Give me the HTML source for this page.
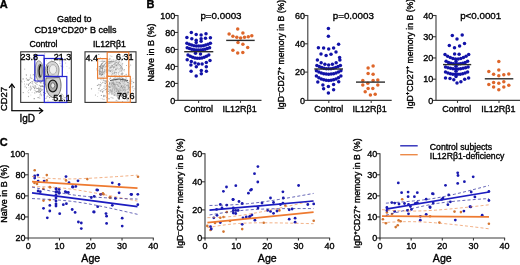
<!DOCTYPE html>
<html><head><meta charset="utf-8"><style>
html,body{margin:0;padding:0;background:#fff;}
body{width:520px;height:265px;overflow:hidden;font-family:"Liberation Sans", sans-serif;}
svg{display:block;will-change:transform;}
</style></head><body>
<svg width="520" height="265" viewBox="0 0 520 265" font-family='"Liberation Sans", sans-serif'>
<style>text{stroke:#000;stroke-width:0.35px;paint-order:stroke;}</style>
<rect width="520" height="265" fill="#fff"/>
<text x="-0.30" y="8.20" font-size="11" text-anchor="start" font-weight="bold" fill="#000" >A</text>
<text x="146.50" y="8.10" font-size="11" text-anchor="start" font-weight="bold" fill="#000" >B</text>
<text x="-0.30" y="146.00" font-size="11" text-anchor="start" font-weight="bold" fill="#000" >C</text>
<text x="74.30" y="22.20" font-size="9" text-anchor="middle" font-weight="normal" fill="#000" >Gated to</text>
<text x="75.5" y="32.8" font-size="9" text-anchor="middle" fill="#000">CD19<tspan font-size="6" dy="-3.3">+</tspan><tspan dy="3.3">CD20</tspan><tspan font-size="6" dy="-3.3">+</tspan><tspan dy="3.3"> B cells</tspan></text>
<text x="43.40" y="47.30" font-size="8.7" text-anchor="middle" font-weight="normal" fill="#000" >Control</text>
<text x="109.40" y="47.40" font-size="8.7" text-anchor="middle" font-weight="normal" fill="#000" >IL12R&#946;1</text>
<circle cx="31.7" cy="88.1" r="0.56" fill="#9a9a9a"/>
<circle cx="34.0" cy="80.8" r="0.55" fill="#888"/>
<circle cx="33.5" cy="87.3" r="0.50" fill="#9a9a9a"/>
<circle cx="37.4" cy="88.5" r="0.61" fill="#9a9a9a"/>
<circle cx="39.7" cy="80.3" r="0.55" fill="#9a9a9a"/>
<circle cx="28.6" cy="80.3" r="0.64" fill="#9a9a9a"/>
<circle cx="30.5" cy="82.5" r="0.50" fill="#888"/>
<circle cx="36.2" cy="88.6" r="0.60" fill="#9a9a9a"/>
<circle cx="38.2" cy="90.3" r="0.45" fill="#9a9a9a"/>
<circle cx="31.3" cy="83.1" r="0.41" fill="#9a9a9a"/>
<circle cx="26.8" cy="84.2" r="0.59" fill="#b5b5b5"/>
<circle cx="28.3" cy="79.5" r="0.47" fill="#9a9a9a"/>
<circle cx="31.8" cy="78.3" r="0.54" fill="#888"/>
<circle cx="28.4" cy="84.2" r="0.51" fill="#888"/>
<circle cx="35.5" cy="83.5" r="0.50" fill="#b5b5b5"/>
<circle cx="36.3" cy="91.6" r="0.41" fill="#888"/>
<circle cx="38.6" cy="88.8" r="0.60" fill="#b5b5b5"/>
<circle cx="30.5" cy="90.3" r="0.52" fill="#b5b5b5"/>
<circle cx="35.0" cy="85.5" r="0.47" fill="#888"/>
<circle cx="32.1" cy="81.6" r="0.58" fill="#888"/>
<circle cx="26.3" cy="78.3" r="0.51" fill="#888"/>
<circle cx="27.4" cy="91.8" r="0.41" fill="#b5b5b5"/>
<circle cx="28.8" cy="92.7" r="0.52" fill="#9a9a9a"/>
<circle cx="33.3" cy="79.8" r="0.46" fill="#b5b5b5"/>
<circle cx="38.1" cy="79.3" r="0.44" fill="#b5b5b5"/>
<circle cx="23.1" cy="78.9" r="0.60" fill="#888"/>
<circle cx="32.1" cy="92.2" r="0.49" fill="#b5b5b5"/>
<circle cx="35.8" cy="82.8" r="0.44" fill="#9a9a9a"/>
<circle cx="32.6" cy="83.0" r="0.61" fill="#9a9a9a"/>
<circle cx="33.0" cy="84.7" r="0.50" fill="#b5b5b5"/>
<circle cx="29.6" cy="79.5" r="0.43" fill="#888"/>
<circle cx="39.9" cy="80.4" r="0.58" fill="#b5b5b5"/>
<circle cx="40.0" cy="75.8" r="0.62" fill="#888"/>
<circle cx="29.1" cy="89.1" r="0.43" fill="#888"/>
<circle cx="30.4" cy="87.0" r="0.65" fill="#b5b5b5"/>
<circle cx="35.4" cy="90.2" r="0.41" fill="#9a9a9a"/>
<circle cx="27.3" cy="80.0" r="0.64" fill="#888"/>
<circle cx="43.1" cy="86.6" r="0.55" fill="#9a9a9a"/>
<circle cx="24.7" cy="69.1" r="0.55" fill="#b5b5b5"/>
<circle cx="40.0" cy="94.8" r="0.65" fill="#b5b5b5"/>
<circle cx="28.7" cy="84.8" r="0.44" fill="#888"/>
<circle cx="30.8" cy="89.2" r="0.61" fill="#9a9a9a"/>
<circle cx="29.6" cy="83.4" r="0.64" fill="#b5b5b5"/>
<circle cx="36.8" cy="92.0" r="0.41" fill="#888"/>
<circle cx="30.9" cy="95.0" r="0.42" fill="#b5b5b5"/>
<circle cx="22.1" cy="82.0" r="0.49" fill="#9a9a9a"/>
<circle cx="24.5" cy="81.2" r="0.48" fill="#9a9a9a"/>
<circle cx="26.3" cy="74.8" r="0.59" fill="#9a9a9a"/>
<circle cx="36.2" cy="70.1" r="0.58" fill="#9a9a9a"/>
<circle cx="34.8" cy="92.9" r="0.58" fill="#9a9a9a"/>
<circle cx="34.4" cy="75.2" r="0.45" fill="#888"/>
<circle cx="38.2" cy="81.6" r="0.63" fill="#b5b5b5"/>
<circle cx="37.6" cy="81.9" r="0.46" fill="#9a9a9a"/>
<circle cx="28.5" cy="85.4" r="0.52" fill="#888"/>
<circle cx="36.1" cy="76.3" r="0.56" fill="#888"/>
<circle cx="39.3" cy="90.0" r="0.63" fill="#888"/>
<circle cx="33.0" cy="74.9" r="0.44" fill="#888"/>
<circle cx="28.5" cy="96.5" r="0.64" fill="#b5b5b5"/>
<circle cx="25.0" cy="87.0" r="0.42" fill="#9a9a9a"/>
<circle cx="34.3" cy="87.7" r="0.44" fill="#b5b5b5"/>
<circle cx="34.0" cy="79.8" r="0.61" fill="#b5b5b5"/>
<circle cx="30.4" cy="77.8" r="0.54" fill="#9a9a9a"/>
<circle cx="41.9" cy="85.9" r="0.58" fill="#9a9a9a"/>
<circle cx="21.5" cy="80.9" r="0.51" fill="#9a9a9a"/>
<circle cx="34.6" cy="79.1" r="0.46" fill="#b5b5b5"/>
<circle cx="24.5" cy="83.9" r="0.48" fill="#888"/>
<circle cx="30.7" cy="86.1" r="0.63" fill="#b5b5b5"/>
<circle cx="38.9" cy="76.9" r="0.60" fill="#888"/>
<circle cx="23.2" cy="92.6" r="0.53" fill="#888"/>
<circle cx="36.5" cy="91.8" r="0.62" fill="#9a9a9a"/>
<circle cx="26.3" cy="75.3" r="0.44" fill="#9a9a9a"/>
<circle cx="25.1" cy="86.1" r="0.54" fill="#b5b5b5"/>
<circle cx="30.5" cy="75.0" r="0.52" fill="#9a9a9a"/>
<circle cx="34.3" cy="82.2" r="0.45" fill="#9a9a9a"/>
<circle cx="33.8" cy="74.6" r="0.54" fill="#9a9a9a"/>
<circle cx="26.5" cy="87.8" r="0.53" fill="#888"/>
<circle cx="34.3" cy="90.1" r="0.53" fill="#b5b5b5"/>
<circle cx="29.2" cy="83.7" r="0.53" fill="#b5b5b5"/>
<circle cx="42.3" cy="76.1" r="0.45" fill="#b5b5b5"/>
<circle cx="34.7" cy="87.1" r="0.51" fill="#9a9a9a"/>
<circle cx="30.5" cy="76.6" r="0.45" fill="#b5b5b5"/>
<circle cx="35.3" cy="67.3" r="0.44" fill="#888"/>
<circle cx="30.0" cy="78.0" r="0.46" fill="#9a9a9a"/>
<circle cx="36.4" cy="82.9" r="0.64" fill="#b5b5b5"/>
<circle cx="35.2" cy="80.8" r="0.57" fill="#9a9a9a"/>
<circle cx="35.8" cy="91.2" r="0.53" fill="#b5b5b5"/>
<circle cx="28.9" cy="87.6" r="0.42" fill="#b5b5b5"/>
<circle cx="39.3" cy="85.2" r="0.51" fill="#9a9a9a"/>
<circle cx="28.5" cy="90.4" r="0.47" fill="#9a9a9a"/>
<circle cx="41.5" cy="95.7" r="0.46" fill="#9a9a9a"/>
<circle cx="43.8" cy="92.4" r="0.63" fill="#8a8a8a"/>
<circle cx="40.7" cy="93.1" r="0.51" fill="#777"/>
<circle cx="42.3" cy="85.8" r="0.44" fill="#777"/>
<circle cx="35.4" cy="86.0" r="0.42" fill="#8a8a8a"/>
<circle cx="41.8" cy="86.4" r="0.62" fill="#a5a5a5"/>
<circle cx="46.3" cy="86.8" r="0.60" fill="#8a8a8a"/>
<circle cx="38.8" cy="87.3" r="0.47" fill="#8a8a8a"/>
<circle cx="37.5" cy="91.6" r="0.54" fill="#a5a5a5"/>
<circle cx="40.1" cy="88.8" r="0.58" fill="#8a8a8a"/>
<circle cx="44.1" cy="89.1" r="0.45" fill="#a5a5a5"/>
<circle cx="37.6" cy="84.7" r="0.45" fill="#a5a5a5"/>
<circle cx="38.5" cy="90.0" r="0.49" fill="#8a8a8a"/>
<circle cx="42.1" cy="89.9" r="0.40" fill="#777"/>
<circle cx="38.5" cy="88.8" r="0.52" fill="#a5a5a5"/>
<circle cx="46.8" cy="96.9" r="0.51" fill="#a5a5a5"/>
<circle cx="33.0" cy="86.4" r="0.64" fill="#a5a5a5"/>
<circle cx="36.7" cy="74.2" r="0.49" fill="#777"/>
<circle cx="40.7" cy="86.7" r="0.65" fill="#8a8a8a"/>
<circle cx="41.4" cy="89.1" r="0.56" fill="#a5a5a5"/>
<circle cx="39.8" cy="90.9" r="0.57" fill="#a5a5a5"/>
<circle cx="45.1" cy="83.5" r="0.47" fill="#8a8a8a"/>
<circle cx="40.6" cy="88.3" r="0.45" fill="#a5a5a5"/>
<circle cx="38.1" cy="91.6" r="0.64" fill="#777"/>
<circle cx="40.5" cy="91.4" r="0.62" fill="#8a8a8a"/>
<circle cx="40.9" cy="90.2" r="0.50" fill="#a5a5a5"/>
<circle cx="39.9" cy="98.6" r="0.46" fill="#8a8a8a"/>
<circle cx="47.2" cy="96.0" r="0.44" fill="#777"/>
<circle cx="41.8" cy="90.3" r="0.48" fill="#8a8a8a"/>
<circle cx="49.7" cy="97.6" r="0.61" fill="#8a8a8a"/>
<circle cx="37.5" cy="82.0" r="0.62" fill="#a5a5a5"/>
<circle cx="41.6" cy="80.5" r="0.52" fill="#a5a5a5"/>
<circle cx="40.1" cy="81.5" r="0.41" fill="#777"/>
<circle cx="45.4" cy="84.7" r="0.58" fill="#777"/>
<circle cx="44.1" cy="95.6" r="0.53" fill="#8a8a8a"/>
<circle cx="43.4" cy="83.0" r="0.62" fill="#777"/>
<circle cx="46.5" cy="87.7" r="0.42" fill="#8a8a8a"/>
<circle cx="43.5" cy="94.2" r="0.43" fill="#a5a5a5"/>
<circle cx="35.8" cy="87.0" r="0.56" fill="#777"/>
<circle cx="41.1" cy="94.7" r="0.51" fill="#8a8a8a"/>
<circle cx="40.9" cy="82.9" r="0.53" fill="#777"/>
<circle cx="34.5" cy="88.4" r="0.52" fill="#8a8a8a"/>
<circle cx="42.7" cy="86.4" r="0.59" fill="#8a8a8a"/>
<circle cx="40.3" cy="73.7" r="0.52" fill="#a5a5a5"/>
<circle cx="48.8" cy="96.1" r="0.47" fill="#8a8a8a"/>
<circle cx="36.7" cy="84.2" r="0.42" fill="#8a8a8a"/>
<circle cx="38.1" cy="97.6" r="0.57" fill="#777"/>
<circle cx="40.4" cy="89.6" r="0.42" fill="#a5a5a5"/>
<circle cx="42.8" cy="89.5" r="0.45" fill="#a5a5a5"/>
<circle cx="39.8" cy="97.0" r="0.52" fill="#a5a5a5"/>
<circle cx="42.4" cy="71.1" r="0.54" fill="#a5a5a5"/>
<circle cx="50.3" cy="88.1" r="0.40" fill="#a5a5a5"/>
<circle cx="45.2" cy="93.3" r="0.65" fill="#a5a5a5"/>
<circle cx="34.2" cy="98.7" r="0.63" fill="#8a8a8a"/>
<circle cx="39.1" cy="88.4" r="0.53" fill="#a5a5a5"/>
<circle cx="46.0" cy="98.2" r="0.53" fill="#8a8a8a"/>
<circle cx="40.2" cy="85.8" r="0.62" fill="#a5a5a5"/>
<circle cx="39.1" cy="92.2" r="0.64" fill="#777"/>
<circle cx="37.8" cy="91.5" r="0.44" fill="#a5a5a5"/>
<circle cx="39.6" cy="92.1" r="0.48" fill="#a5a5a5"/>
<circle cx="41.0" cy="78.5" r="0.43" fill="#8a8a8a"/>
<circle cx="53.1" cy="66.7" r="0.50" fill="#aaa"/>
<circle cx="49.6" cy="66.1" r="0.47" fill="#aaa"/>
<circle cx="54.5" cy="63.6" r="0.57" fill="#aaa"/>
<circle cx="55.0" cy="65.9" r="0.53" fill="#aaa"/>
<circle cx="57.0" cy="53.3" r="0.51" fill="#aaa"/>
<circle cx="59.3" cy="55.5" r="0.63" fill="#aaa"/>
<circle cx="54.5" cy="60.4" r="0.58" fill="#c0c0c0"/>
<circle cx="51.7" cy="60.2" r="0.62" fill="#c0c0c0"/>
<circle cx="61.3" cy="66.1" r="0.49" fill="#c0c0c0"/>
<circle cx="54.5" cy="70.2" r="0.56" fill="#c0c0c0"/>
<circle cx="51.2" cy="58.5" r="0.54" fill="#c0c0c0"/>
<circle cx="63.4" cy="66.9" r="0.42" fill="#c0c0c0"/>
<circle cx="46.6" cy="60.3" r="0.48" fill="#c0c0c0"/>
<circle cx="46.0" cy="64.8" r="0.46" fill="#aaa"/>
<circle cx="53.1" cy="63.8" r="0.46" fill="#c0c0c0"/>
<circle cx="57.0" cy="58.9" r="0.41" fill="#c0c0c0"/>
<circle cx="45.2" cy="67.6" r="0.45" fill="#c0c0c0"/>
<circle cx="53.5" cy="63.5" r="0.47" fill="#c0c0c0"/>
<circle cx="61.7" cy="66.2" r="0.56" fill="#aaa"/>
<circle cx="69.2" cy="67.9" r="0.50" fill="#c0c0c0"/>
<circle cx="48.7" cy="63.8" r="0.60" fill="#aaa"/>
<circle cx="60.9" cy="65.8" r="0.59" fill="#c0c0c0"/>
<circle cx="64.1" cy="60.9" r="0.42" fill="#c0c0c0"/>
<circle cx="61.0" cy="61.3" r="0.43" fill="#aaa"/>
<circle cx="67.3" cy="72.9" r="0.43" fill="#c0c0c0"/>
<circle cx="66.9" cy="66.4" r="0.40" fill="#aaa"/>
<circle cx="57.0" cy="73.2" r="0.56" fill="#c0c0c0"/>
<circle cx="65.9" cy="60.4" r="0.53" fill="#c0c0c0"/>
<circle cx="53.8" cy="59.7" r="0.42" fill="#aaa"/>
<circle cx="50.7" cy="64.3" r="0.55" fill="#aaa"/>
<circle cx="28.9" cy="58.1" r="0.47" fill="#c0c0c0"/>
<circle cx="44.8" cy="53.8" r="0.52" fill="#aaa"/>
<circle cx="53.1" cy="61.6" r="0.50" fill="#c0c0c0"/>
<circle cx="59.9" cy="63.1" r="0.62" fill="#c0c0c0"/>
<circle cx="60.0" cy="63.8" r="0.51" fill="#c0c0c0"/>
<circle cx="55.3" cy="63.3" r="0.48" fill="#c0c0c0"/>
<circle cx="49.8" cy="65.8" r="0.40" fill="#c0c0c0"/>
<circle cx="54.4" cy="56.1" r="0.45" fill="#aaa"/>
<circle cx="49.4" cy="70.6" r="0.46" fill="#aaa"/>
<circle cx="53.4" cy="72.4" r="0.43" fill="#c0c0c0"/>
<circle cx="41.9" cy="55.2" r="0.52" fill="#aaa"/>
<circle cx="59.3" cy="61.1" r="0.50" fill="#aaa"/>
<circle cx="65.7" cy="63.0" r="0.50" fill="#aaa"/>
<circle cx="59.1" cy="100.0" r="0.58" fill="#b0b0b0"/>
<circle cx="53.4" cy="82.2" r="0.63" fill="#b0b0b0"/>
<circle cx="59.7" cy="101.4" r="0.53" fill="#b0b0b0"/>
<circle cx="66.1" cy="97.2" r="0.49" fill="#b0b0b0"/>
<circle cx="63.5" cy="95.6" r="0.43" fill="#999"/>
<circle cx="54.8" cy="99.7" r="0.64" fill="#999"/>
<circle cx="45.1" cy="93.5" r="0.50" fill="#b0b0b0"/>
<circle cx="59.3" cy="92.2" r="0.41" fill="#b0b0b0"/>
<circle cx="58.9" cy="100.7" r="0.51" fill="#b0b0b0"/>
<circle cx="63.1" cy="96.8" r="0.60" fill="#b0b0b0"/>
<circle cx="57.8" cy="96.3" r="0.42" fill="#999"/>
<circle cx="61.1" cy="93.8" r="0.47" fill="#999"/>
<circle cx="53.7" cy="98.9" r="0.40" fill="#999"/>
<circle cx="61.1" cy="96.4" r="0.52" fill="#b0b0b0"/>
<circle cx="62.6" cy="94.9" r="0.46" fill="#b0b0b0"/>
<circle cx="57.5" cy="94.0" r="0.52" fill="#999"/>
<circle cx="59.7" cy="89.8" r="0.61" fill="#999"/>
<circle cx="51.1" cy="93.8" r="0.48" fill="#b0b0b0"/>
<circle cx="58.0" cy="90.7" r="0.53" fill="#b0b0b0"/>
<circle cx="56.1" cy="93.0" r="0.42" fill="#999"/>
<circle cx="47.3" cy="96.6" r="0.44" fill="#b0b0b0"/>
<circle cx="55.7" cy="97.7" r="0.42" fill="#b0b0b0"/>
<circle cx="57.7" cy="97.9" r="0.52" fill="#999"/>
<circle cx="55.8" cy="88.3" r="0.57" fill="#999"/>
<circle cx="57.1" cy="92.7" r="0.47" fill="#b0b0b0"/>
<circle cx="48.0" cy="100.7" r="0.45" fill="#999"/>
<circle cx="58.0" cy="98.7" r="0.47" fill="#999"/>
<circle cx="52.8" cy="99.6" r="0.65" fill="#999"/>
<circle cx="54.1" cy="94.5" r="0.52" fill="#999"/>
<circle cx="62.4" cy="98.7" r="0.60" fill="#b0b0b0"/>
<circle cx="57.7" cy="95.4" r="0.47" fill="#999"/>
<circle cx="65.0" cy="97.7" r="0.61" fill="#999"/>
<circle cx="62.1" cy="94.4" r="0.62" fill="#b0b0b0"/>
<circle cx="46.4" cy="91.8" r="0.57" fill="#999"/>
<circle cx="63.4" cy="99.3" r="0.55" fill="#999"/>
<ellipse cx="39.6" cy="71.5" rx="4.2" ry="10.8" fill="#d2d2d2" stroke="#7a7a7a" stroke-width="0.7" transform="rotate(-5 39.6 71.5)"/>
<ellipse cx="40" cy="71" rx="2.3" ry="7" fill="#b8b8b8" stroke="#555" stroke-width="0.6"/>
<path d="M40.8,64.5 C38.6,67.5 38.6,73.5 40.3,77" fill="none" stroke="#111" stroke-width="1.3"/>
<path d="M45.5,75.5 C44.5,69 46,62.5 51.5,61.5 C56.5,61 59.5,66 59,71 C58.7,74 58,76 57.5,77 Z" fill="#d6d6d6" stroke="#666" stroke-width="0.7"/>
<ellipse cx="53" cy="69.5" rx="3.6" ry="4.8" fill="#efefef" stroke="#8a8a8a" stroke-width="0.6"/>
<path d="M48,65.5 C46.8,69 47,72.5 48.6,75.5" fill="none" stroke="#333" stroke-width="1"/>
<path d="M46,78 C45,86 46.5,95 52.5,97.5 C58.5,98 61.5,91 61,84 C60.8,81 60,79 59.5,77.5 Z" fill="#d0d0d0" stroke="#555" stroke-width="0.8"/>
<ellipse cx="52.8" cy="86" rx="4.4" ry="5.8" fill="#a8a8a8" stroke="#151515" stroke-width="1.2"/>
<ellipse cx="52.8" cy="85.5" rx="2" ry="2.7" fill="#ececec" stroke="#444" stroke-width="0.6"/>
<rect x="20.7" y="51.8" width="50.599999999999994" height="50.60000000000001" fill="none" stroke="#333" stroke-width="1.1"/>
<polyline points="34.8,81 34.8,55.3 44.1,55.3 44.1,81 34.8,81" fill="none" stroke="#2323cf" stroke-width="1.2"/>
<rect x="44.3" y="58.5" width="18" height="18" fill="none" stroke="#2323cf" stroke-width="1.2"/>
<rect x="44.3" y="76.5" width="22.5" height="26" fill="none" stroke="#2323cf" stroke-width="1.2"/>
<text x="20.60" y="60.40" font-size="9" text-anchor="start" font-weight="normal" fill="#000" >23.8</text>
<text x="71.40" y="60.00" font-size="9" text-anchor="end" font-weight="normal" fill="#000" >21.3</text>
<text x="70.80" y="101.30" font-size="9" text-anchor="end" font-weight="normal" fill="#000" >51.1</text>
<ellipse cx="119" cy="87" rx="11" ry="10" fill="#e2e2e2"/>
<ellipse cx="113" cy="67" rx="10" ry="8" fill="#eeeeee"/>
<ellipse cx="102" cy="72" rx="3.5" ry="9" fill="#ececec"/>
<circle cx="108.4" cy="89.3" r="0.41" fill="#b0b0b0"/>
<circle cx="111.9" cy="90.3" r="0.63" fill="#9a9a9a"/>
<circle cx="106.1" cy="82.4" r="0.49" fill="#888"/>
<circle cx="102.7" cy="91.7" r="0.60" fill="#888"/>
<circle cx="98.9" cy="88.6" r="0.60" fill="#888"/>
<circle cx="97.2" cy="85.3" r="0.42" fill="#9a9a9a"/>
<circle cx="100.8" cy="90.9" r="0.65" fill="#888"/>
<circle cx="101.5" cy="95.2" r="0.49" fill="#b0b0b0"/>
<circle cx="112.5" cy="89.2" r="0.60" fill="#888"/>
<circle cx="106.6" cy="97.2" r="0.45" fill="#9a9a9a"/>
<circle cx="101.3" cy="89.4" r="0.43" fill="#9a9a9a"/>
<circle cx="95.4" cy="94.9" r="0.52" fill="#9a9a9a"/>
<circle cx="105.1" cy="89.4" r="0.44" fill="#b0b0b0"/>
<circle cx="109.9" cy="92.4" r="0.49" fill="#888"/>
<circle cx="106.2" cy="92.9" r="0.44" fill="#9a9a9a"/>
<circle cx="106.1" cy="86.7" r="0.52" fill="#9a9a9a"/>
<circle cx="101.0" cy="98.8" r="0.41" fill="#b0b0b0"/>
<circle cx="101.3" cy="95.5" r="0.56" fill="#9a9a9a"/>
<circle cx="109.7" cy="83.3" r="0.61" fill="#9a9a9a"/>
<circle cx="97.7" cy="78.9" r="0.56" fill="#888"/>
<circle cx="109.3" cy="78.7" r="0.45" fill="#9a9a9a"/>
<circle cx="115.4" cy="91.7" r="0.44" fill="#b0b0b0"/>
<circle cx="106.7" cy="91.2" r="0.58" fill="#9a9a9a"/>
<circle cx="110.2" cy="90.0" r="0.59" fill="#9a9a9a"/>
<circle cx="101.8" cy="83.4" r="0.50" fill="#b0b0b0"/>
<circle cx="97.3" cy="85.4" r="0.48" fill="#b0b0b0"/>
<circle cx="102.6" cy="92.2" r="0.50" fill="#b0b0b0"/>
<circle cx="98.9" cy="90.1" r="0.41" fill="#888"/>
<circle cx="109.6" cy="87.4" r="0.51" fill="#888"/>
<circle cx="105.0" cy="81.5" r="0.44" fill="#b0b0b0"/>
<circle cx="102.5" cy="89.3" r="0.49" fill="#b0b0b0"/>
<circle cx="108.5" cy="91.5" r="0.53" fill="#9a9a9a"/>
<circle cx="106.6" cy="88.8" r="0.63" fill="#b0b0b0"/>
<circle cx="105.0" cy="80.9" r="0.41" fill="#888"/>
<circle cx="109.7" cy="82.6" r="0.60" fill="#9a9a9a"/>
<circle cx="114.4" cy="72.4" r="0.58" fill="#9a9a9a"/>
<circle cx="91.5" cy="88.8" r="0.63" fill="#9a9a9a"/>
<circle cx="100.9" cy="79.2" r="0.46" fill="#b0b0b0"/>
<circle cx="101.1" cy="85.1" r="0.48" fill="#888"/>
<circle cx="102.6" cy="98.9" r="0.44" fill="#888"/>
<circle cx="109.6" cy="86.5" r="0.55" fill="#888"/>
<circle cx="99.6" cy="87.8" r="0.41" fill="#9a9a9a"/>
<circle cx="98.2" cy="92.9" r="0.47" fill="#b0b0b0"/>
<circle cx="106.4" cy="85.8" r="0.60" fill="#9a9a9a"/>
<circle cx="104.2" cy="86.1" r="0.61" fill="#b0b0b0"/>
<circle cx="97.8" cy="85.3" r="0.62" fill="#9a9a9a"/>
<circle cx="103.9" cy="95.4" r="0.61" fill="#888"/>
<circle cx="105.2" cy="83.5" r="0.65" fill="#888"/>
<circle cx="106.7" cy="92.3" r="0.42" fill="#9a9a9a"/>
<circle cx="107.7" cy="96.9" r="0.41" fill="#888"/>
<circle cx="103.8" cy="96.6" r="0.65" fill="#888"/>
<circle cx="113.6" cy="82.5" r="0.58" fill="#888"/>
<circle cx="106.8" cy="88.7" r="0.55" fill="#b0b0b0"/>
<circle cx="99.9" cy="90.8" r="0.41" fill="#b0b0b0"/>
<circle cx="105.0" cy="96.6" r="0.41" fill="#9a9a9a"/>
<circle cx="100.1" cy="85.9" r="0.53" fill="#888"/>
<circle cx="105.1" cy="95.8" r="0.55" fill="#9a9a9a"/>
<circle cx="97.7" cy="96.4" r="0.44" fill="#9a9a9a"/>
<circle cx="123.8" cy="85.1" r="0.44" fill="#9a9a9a"/>
<circle cx="122.6" cy="88.4" r="0.60" fill="#c0c0c0"/>
<circle cx="114.5" cy="89.9" r="0.40" fill="#888"/>
<circle cx="126.3" cy="81.5" r="0.57" fill="#888"/>
<circle cx="129.5" cy="82.9" r="0.47" fill="#9a9a9a"/>
<circle cx="127.3" cy="89.2" r="0.52" fill="#aeaeae"/>
<circle cx="127.3" cy="99.1" r="0.43" fill="#888"/>
<circle cx="103.2" cy="82.1" r="0.44" fill="#aeaeae"/>
<circle cx="109.0" cy="85.9" r="0.59" fill="#d0d0d0"/>
<circle cx="120.7" cy="83.3" r="0.49" fill="#c0c0c0"/>
<circle cx="103.2" cy="72.2" r="0.62" fill="#d0d0d0"/>
<circle cx="118.8" cy="86.3" r="0.65" fill="#d0d0d0"/>
<circle cx="127.9" cy="91.6" r="0.45" fill="#9a9a9a"/>
<circle cx="118.3" cy="96.3" r="0.44" fill="#c0c0c0"/>
<circle cx="117.7" cy="82.0" r="0.57" fill="#d0d0d0"/>
<circle cx="112.9" cy="73.7" r="0.69" fill="#c0c0c0"/>
<circle cx="107.6" cy="73.9" r="0.47" fill="#888"/>
<circle cx="124.4" cy="87.5" r="0.47" fill="#aeaeae"/>
<circle cx="129.9" cy="83.3" r="0.50" fill="#d0d0d0"/>
<circle cx="116.5" cy="91.2" r="0.67" fill="#888"/>
<circle cx="105.9" cy="89.4" r="0.61" fill="#9a9a9a"/>
<circle cx="108.6" cy="91.0" r="0.57" fill="#c0c0c0"/>
<circle cx="120.7" cy="80.7" r="0.58" fill="#888"/>
<circle cx="122.3" cy="85.1" r="0.41" fill="#9a9a9a"/>
<circle cx="116.0" cy="84.3" r="0.69" fill="#9a9a9a"/>
<circle cx="122.7" cy="87.7" r="0.59" fill="#9a9a9a"/>
<circle cx="115.3" cy="77.0" r="0.42" fill="#888"/>
<circle cx="119.3" cy="82.7" r="0.69" fill="#888"/>
<circle cx="121.0" cy="85.5" r="0.66" fill="#d0d0d0"/>
<circle cx="122.7" cy="89.8" r="0.43" fill="#9a9a9a"/>
<circle cx="133.6" cy="82.5" r="0.63" fill="#9a9a9a"/>
<circle cx="123.5" cy="78.8" r="0.49" fill="#9a9a9a"/>
<circle cx="127.3" cy="95.5" r="0.59" fill="#c0c0c0"/>
<circle cx="115.9" cy="93.2" r="0.41" fill="#c0c0c0"/>
<circle cx="121.0" cy="86.1" r="0.63" fill="#c0c0c0"/>
<circle cx="120.1" cy="78.2" r="0.54" fill="#c0c0c0"/>
<circle cx="117.7" cy="85.9" r="0.52" fill="#d0d0d0"/>
<circle cx="115.8" cy="86.7" r="0.54" fill="#9a9a9a"/>
<circle cx="114.2" cy="85.9" r="0.66" fill="#9a9a9a"/>
<circle cx="113.9" cy="84.6" r="0.53" fill="#888"/>
<circle cx="122.5" cy="97.5" r="0.69" fill="#9a9a9a"/>
<circle cx="117.2" cy="89.4" r="0.61" fill="#aeaeae"/>
<circle cx="128.2" cy="85.2" r="0.69" fill="#888"/>
<circle cx="118.0" cy="91.4" r="0.61" fill="#d0d0d0"/>
<circle cx="127.3" cy="100.3" r="0.63" fill="#d0d0d0"/>
<circle cx="121.6" cy="77.2" r="0.64" fill="#c0c0c0"/>
<circle cx="114.6" cy="92.2" r="0.52" fill="#9a9a9a"/>
<circle cx="110.1" cy="91.4" r="0.51" fill="#c0c0c0"/>
<circle cx="117.8" cy="100.9" r="0.55" fill="#d0d0d0"/>
<circle cx="128.8" cy="86.0" r="0.68" fill="#aeaeae"/>
<circle cx="107.5" cy="84.9" r="0.63" fill="#9a9a9a"/>
<circle cx="115.4" cy="91.7" r="0.45" fill="#d0d0d0"/>
<circle cx="113.0" cy="77.9" r="0.45" fill="#d0d0d0"/>
<circle cx="117.0" cy="82.4" r="0.47" fill="#c0c0c0"/>
<circle cx="104.9" cy="90.2" r="0.47" fill="#aeaeae"/>
<circle cx="117.7" cy="97.8" r="0.65" fill="#888"/>
<circle cx="121.3" cy="90.1" r="0.47" fill="#c0c0c0"/>
<circle cx="113.8" cy="83.4" r="0.47" fill="#aeaeae"/>
<circle cx="123.2" cy="86.9" r="0.60" fill="#aeaeae"/>
<circle cx="104.0" cy="99.4" r="0.64" fill="#c0c0c0"/>
<circle cx="114.8" cy="88.7" r="0.59" fill="#9a9a9a"/>
<circle cx="116.2" cy="100.3" r="0.54" fill="#9a9a9a"/>
<circle cx="109.0" cy="93.8" r="0.61" fill="#888"/>
<circle cx="124.8" cy="86.3" r="0.41" fill="#c0c0c0"/>
<circle cx="113.3" cy="83.0" r="0.62" fill="#d0d0d0"/>
<circle cx="116.2" cy="78.8" r="0.59" fill="#aeaeae"/>
<circle cx="114.0" cy="78.8" r="0.66" fill="#888"/>
<circle cx="125.3" cy="79.2" r="0.59" fill="#d0d0d0"/>
<circle cx="114.1" cy="89.1" r="0.61" fill="#d0d0d0"/>
<circle cx="119.3" cy="93.6" r="0.61" fill="#aeaeae"/>
<circle cx="119.0" cy="93.8" r="0.54" fill="#888"/>
<circle cx="124.3" cy="80.9" r="0.60" fill="#aeaeae"/>
<circle cx="123.9" cy="83.4" r="0.40" fill="#d0d0d0"/>
<circle cx="121.8" cy="85.3" r="0.48" fill="#aeaeae"/>
<circle cx="125.5" cy="96.6" r="0.68" fill="#888"/>
<circle cx="111.1" cy="97.3" r="0.54" fill="#aeaeae"/>
<circle cx="117.3" cy="79.4" r="0.59" fill="#c0c0c0"/>
<circle cx="111.9" cy="86.1" r="0.68" fill="#aeaeae"/>
<circle cx="123.5" cy="86.7" r="0.55" fill="#9a9a9a"/>
<circle cx="117.7" cy="78.1" r="0.59" fill="#c0c0c0"/>
<circle cx="117.9" cy="93.5" r="0.40" fill="#d0d0d0"/>
<circle cx="127.5" cy="82.4" r="0.60" fill="#888"/>
<circle cx="118.5" cy="91.6" r="0.62" fill="#888"/>
<circle cx="126.6" cy="85.2" r="0.45" fill="#9a9a9a"/>
<circle cx="122.6" cy="78.4" r="0.54" fill="#888"/>
<circle cx="116.6" cy="75.3" r="0.44" fill="#d0d0d0"/>
<circle cx="113.3" cy="88.1" r="0.56" fill="#aeaeae"/>
<circle cx="120.5" cy="79.8" r="0.64" fill="#aeaeae"/>
<circle cx="118.3" cy="93.3" r="0.48" fill="#d0d0d0"/>
<circle cx="115.5" cy="80.3" r="0.64" fill="#c0c0c0"/>
<circle cx="112.6" cy="94.4" r="0.50" fill="#d0d0d0"/>
<circle cx="110.0" cy="91.0" r="0.60" fill="#c0c0c0"/>
<circle cx="122.4" cy="91.5" r="0.52" fill="#9a9a9a"/>
<circle cx="126.2" cy="74.5" r="0.64" fill="#aeaeae"/>
<circle cx="112.7" cy="85.9" r="0.57" fill="#9a9a9a"/>
<circle cx="119.7" cy="89.4" r="0.49" fill="#888"/>
<circle cx="122.1" cy="89.1" r="0.47" fill="#d0d0d0"/>
<circle cx="116.7" cy="90.1" r="0.67" fill="#888"/>
<circle cx="126.3" cy="98.9" r="0.58" fill="#9a9a9a"/>
<circle cx="111.7" cy="75.0" r="0.64" fill="#c0c0c0"/>
<circle cx="122.5" cy="96.4" r="0.56" fill="#d0d0d0"/>
<circle cx="117.3" cy="84.1" r="0.44" fill="#d0d0d0"/>
<circle cx="119.4" cy="90.5" r="0.55" fill="#9a9a9a"/>
<circle cx="103.9" cy="88.4" r="0.61" fill="#aeaeae"/>
<circle cx="110.3" cy="87.1" r="0.66" fill="#9a9a9a"/>
<circle cx="122.3" cy="91.8" r="0.61" fill="#d0d0d0"/>
<circle cx="112.2" cy="76.3" r="0.51" fill="#d0d0d0"/>
<circle cx="129.5" cy="87.0" r="0.45" fill="#c0c0c0"/>
<circle cx="117.9" cy="85.8" r="0.58" fill="#c0c0c0"/>
<circle cx="120.1" cy="84.3" r="0.55" fill="#aeaeae"/>
<circle cx="129.9" cy="89.2" r="0.59" fill="#c0c0c0"/>
<circle cx="127.5" cy="92.3" r="0.50" fill="#888"/>
<circle cx="104.4" cy="82.2" r="0.49" fill="#c0c0c0"/>
<circle cx="111.1" cy="90.9" r="0.65" fill="#c0c0c0"/>
<circle cx="114.0" cy="93.0" r="0.50" fill="#c0c0c0"/>
<circle cx="123.5" cy="82.7" r="0.46" fill="#d0d0d0"/>
<circle cx="120.6" cy="81.4" r="0.50" fill="#c0c0c0"/>
<circle cx="132.1" cy="99.5" r="0.43" fill="#9a9a9a"/>
<circle cx="111.8" cy="91.9" r="0.52" fill="#888"/>
<circle cx="124.6" cy="88.7" r="0.40" fill="#aeaeae"/>
<circle cx="122.5" cy="80.4" r="0.63" fill="#9a9a9a"/>
<circle cx="122.7" cy="73.2" r="0.58" fill="#888"/>
<circle cx="125.3" cy="94.8" r="0.61" fill="#9a9a9a"/>
<circle cx="121.4" cy="96.4" r="0.54" fill="#aeaeae"/>
<circle cx="122.6" cy="89.4" r="0.41" fill="#9a9a9a"/>
<circle cx="127.8" cy="82.1" r="0.51" fill="#aeaeae"/>
<circle cx="121.0" cy="78.9" r="0.48" fill="#c0c0c0"/>
<circle cx="119.7" cy="88.6" r="0.41" fill="#888"/>
<circle cx="108.7" cy="75.2" r="0.42" fill="#888"/>
<circle cx="106.1" cy="85.3" r="0.63" fill="#d0d0d0"/>
<circle cx="105.0" cy="80.4" r="0.53" fill="#9a9a9a"/>
<circle cx="115.0" cy="79.1" r="0.70" fill="#aeaeae"/>
<circle cx="111.9" cy="88.0" r="0.43" fill="#d0d0d0"/>
<circle cx="119.9" cy="90.6" r="0.40" fill="#9a9a9a"/>
<circle cx="129.4" cy="87.6" r="0.70" fill="#9a9a9a"/>
<circle cx="119.7" cy="90.2" r="0.54" fill="#c0c0c0"/>
<circle cx="118.0" cy="82.2" r="0.62" fill="#aeaeae"/>
<circle cx="124.9" cy="84.1" r="0.62" fill="#aeaeae"/>
<circle cx="118.6" cy="84.3" r="0.59" fill="#d0d0d0"/>
<circle cx="103.2" cy="90.7" r="0.48" fill="#9a9a9a"/>
<circle cx="118.8" cy="86.0" r="0.40" fill="#888"/>
<circle cx="124.3" cy="89.7" r="0.62" fill="#aeaeae"/>
<circle cx="131.8" cy="83.8" r="0.58" fill="#c0c0c0"/>
<circle cx="112.8" cy="93.3" r="0.53" fill="#aeaeae"/>
<circle cx="126.7" cy="96.2" r="0.51" fill="#aeaeae"/>
<circle cx="114.0" cy="82.1" r="0.52" fill="#d0d0d0"/>
<circle cx="130.5" cy="83.1" r="0.57" fill="#c0c0c0"/>
<circle cx="117.2" cy="95.9" r="0.60" fill="#888"/>
<circle cx="114.3" cy="94.7" r="0.69" fill="#aeaeae"/>
<circle cx="114.2" cy="83.7" r="0.53" fill="#aeaeae"/>
<circle cx="111.4" cy="93.9" r="0.58" fill="#aeaeae"/>
<circle cx="121.0" cy="82.0" r="0.40" fill="#c0c0c0"/>
<circle cx="118.5" cy="90.8" r="0.68" fill="#9a9a9a"/>
<circle cx="118.1" cy="90.5" r="0.67" fill="#888"/>
<circle cx="130.5" cy="101.1" r="0.64" fill="#888"/>
<circle cx="112.8" cy="73.8" r="0.50" fill="#9a9a9a"/>
<circle cx="111.2" cy="85.1" r="0.51" fill="#aeaeae"/>
<circle cx="118.1" cy="89.1" r="0.52" fill="#aeaeae"/>
<circle cx="127.3" cy="83.1" r="0.40" fill="#d0d0d0"/>
<circle cx="116.1" cy="87.7" r="0.64" fill="#9a9a9a"/>
<circle cx="120.0" cy="95.5" r="0.67" fill="#888"/>
<circle cx="115.4" cy="94.0" r="0.46" fill="#aeaeae"/>
<circle cx="120.6" cy="90.8" r="0.61" fill="#c0c0c0"/>
<circle cx="113.2" cy="84.1" r="0.63" fill="#aeaeae"/>
<circle cx="105.0" cy="87.6" r="0.51" fill="#d0d0d0"/>
<circle cx="119.9" cy="83.3" r="0.58" fill="#c0c0c0"/>
<circle cx="117.2" cy="95.7" r="0.43" fill="#aeaeae"/>
<circle cx="133.0" cy="86.2" r="0.55" fill="#888"/>
<circle cx="122.6" cy="101.4" r="0.48" fill="#9a9a9a"/>
<circle cx="130.3" cy="83.3" r="0.65" fill="#aeaeae"/>
<circle cx="119.0" cy="88.8" r="0.46" fill="#aeaeae"/>
<circle cx="117.8" cy="88.1" r="0.41" fill="#c0c0c0"/>
<circle cx="124.3" cy="81.8" r="0.68" fill="#9a9a9a"/>
<circle cx="125.5" cy="80.0" r="0.68" fill="#9a9a9a"/>
<circle cx="118.6" cy="95.4" r="0.59" fill="#888"/>
<circle cx="113.0" cy="91.4" r="0.45" fill="#aeaeae"/>
<circle cx="123.9" cy="86.8" r="0.41" fill="#c0c0c0"/>
<circle cx="121.3" cy="86.2" r="0.57" fill="#9a9a9a"/>
<circle cx="120.1" cy="85.3" r="0.64" fill="#d0d0d0"/>
<circle cx="122.7" cy="88.2" r="0.63" fill="#aeaeae"/>
<circle cx="116.4" cy="82.1" r="0.58" fill="#9a9a9a"/>
<circle cx="112.4" cy="88.1" r="0.52" fill="#c0c0c0"/>
<circle cx="114.8" cy="87.5" r="0.47" fill="#aeaeae"/>
<circle cx="131.7" cy="80.0" r="0.54" fill="#aeaeae"/>
<circle cx="120.2" cy="83.4" r="0.65" fill="#9a9a9a"/>
<circle cx="131.9" cy="81.7" r="0.67" fill="#aeaeae"/>
<circle cx="122.1" cy="70.9" r="0.68" fill="#d0d0d0"/>
<circle cx="124.4" cy="79.3" r="0.54" fill="#c0c0c0"/>
<circle cx="116.8" cy="91.3" r="0.43" fill="#c0c0c0"/>
<circle cx="122.1" cy="90.6" r="0.42" fill="#d0d0d0"/>
<circle cx="115.3" cy="85.8" r="0.66" fill="#c0c0c0"/>
<circle cx="114.4" cy="89.4" r="0.41" fill="#888"/>
<circle cx="122.4" cy="82.0" r="0.45" fill="#d0d0d0"/>
<circle cx="125.0" cy="91.5" r="0.54" fill="#aeaeae"/>
<circle cx="121.4" cy="86.7" r="0.67" fill="#aeaeae"/>
<circle cx="106.6" cy="82.5" r="0.44" fill="#aeaeae"/>
<circle cx="126.3" cy="85.7" r="0.48" fill="#aeaeae"/>
<circle cx="121.8" cy="85.7" r="0.49" fill="#aeaeae"/>
<circle cx="129.5" cy="90.7" r="0.49" fill="#9a9a9a"/>
<circle cx="111.2" cy="89.8" r="0.55" fill="#d0d0d0"/>
<circle cx="132.2" cy="87.1" r="0.56" fill="#aeaeae"/>
<circle cx="117.7" cy="88.4" r="0.52" fill="#c0c0c0"/>
<circle cx="115.6" cy="85.5" r="0.45" fill="#aeaeae"/>
<circle cx="117.9" cy="82.8" r="0.42" fill="#9a9a9a"/>
<circle cx="127.7" cy="80.3" r="0.63" fill="#aeaeae"/>
<circle cx="121.6" cy="95.6" r="0.61" fill="#aeaeae"/>
<circle cx="114.9" cy="84.8" r="0.42" fill="#888"/>
<circle cx="109.6" cy="92.7" r="0.42" fill="#c0c0c0"/>
<circle cx="112.1" cy="97.7" r="0.66" fill="#d0d0d0"/>
<circle cx="125.1" cy="90.6" r="0.63" fill="#aeaeae"/>
<circle cx="122.8" cy="83.3" r="0.46" fill="#c0c0c0"/>
<circle cx="129.6" cy="89.3" r="0.57" fill="#9a9a9a"/>
<circle cx="109.0" cy="98.8" r="0.69" fill="#9a9a9a"/>
<circle cx="127.0" cy="94.1" r="0.64" fill="#c0c0c0"/>
<circle cx="121.6" cy="74.1" r="0.57" fill="#9a9a9a"/>
<circle cx="118.1" cy="90.0" r="0.62" fill="#d0d0d0"/>
<circle cx="110.4" cy="86.3" r="0.56" fill="#9a9a9a"/>
<circle cx="119.1" cy="89.8" r="0.59" fill="#aeaeae"/>
<circle cx="123.2" cy="90.0" r="0.65" fill="#9a9a9a"/>
<circle cx="134.9" cy="88.8" r="0.62" fill="#c0c0c0"/>
<circle cx="128.4" cy="88.0" r="0.57" fill="#888"/>
<circle cx="119.6" cy="94.0" r="0.51" fill="#9a9a9a"/>
<circle cx="118.6" cy="85.1" r="0.44" fill="#d0d0d0"/>
<circle cx="108.8" cy="81.3" r="0.43" fill="#9a9a9a"/>
<circle cx="115.8" cy="89.0" r="0.58" fill="#aeaeae"/>
<circle cx="124.5" cy="93.8" r="0.62" fill="#aeaeae"/>
<circle cx="120.3" cy="86.6" r="0.59" fill="#d0d0d0"/>
<circle cx="111.2" cy="81.9" r="0.41" fill="#9a9a9a"/>
<circle cx="120.1" cy="81.2" r="0.47" fill="#c0c0c0"/>
<circle cx="116.1" cy="74.8" r="0.57" fill="#c0c0c0"/>
<circle cx="124.4" cy="75.4" r="0.42" fill="#888"/>
<circle cx="125.4" cy="94.8" r="0.51" fill="#d0d0d0"/>
<circle cx="118.4" cy="86.2" r="0.43" fill="#aeaeae"/>
<circle cx="125.8" cy="89.9" r="0.55" fill="#9a9a9a"/>
<circle cx="120.1" cy="93.7" r="0.52" fill="#d0d0d0"/>
<circle cx="110.5" cy="78.2" r="0.67" fill="#9a9a9a"/>
<circle cx="128.8" cy="89.0" r="0.48" fill="#888"/>
<circle cx="117.7" cy="95.0" r="0.68" fill="#888"/>
<circle cx="121.9" cy="89.0" r="0.40" fill="#aeaeae"/>
<circle cx="124.5" cy="85.4" r="0.49" fill="#aeaeae"/>
<circle cx="125.8" cy="93.0" r="0.69" fill="#888"/>
<circle cx="121.4" cy="85.4" r="0.58" fill="#aeaeae"/>
<circle cx="111.2" cy="89.9" r="0.67" fill="#d0d0d0"/>
<circle cx="114.0" cy="84.6" r="0.62" fill="#888"/>
<circle cx="117.2" cy="94.0" r="0.61" fill="#aeaeae"/>
<circle cx="116.3" cy="83.5" r="0.61" fill="#d0d0d0"/>
<circle cx="123.6" cy="83.5" r="0.54" fill="#c0c0c0"/>
<circle cx="125.2" cy="88.1" r="0.46" fill="#888"/>
<circle cx="112.1" cy="92.8" r="0.40" fill="#c0c0c0"/>
<circle cx="128.0" cy="100.7" r="0.50" fill="#c0c0c0"/>
<circle cx="113.3" cy="87.3" r="0.70" fill="#c0c0c0"/>
<circle cx="120.4" cy="87.5" r="0.57" fill="#888"/>
<circle cx="124.2" cy="81.9" r="0.42" fill="#d0d0d0"/>
<circle cx="122.3" cy="81.8" r="0.63" fill="#888"/>
<circle cx="118.7" cy="83.2" r="0.50" fill="#c0c0c0"/>
<circle cx="122.0" cy="90.4" r="0.58" fill="#c0c0c0"/>
<circle cx="122.7" cy="79.9" r="0.62" fill="#d0d0d0"/>
<circle cx="117.8" cy="96.1" r="0.59" fill="#aeaeae"/>
<circle cx="116.2" cy="88.6" r="0.52" fill="#888"/>
<circle cx="111.9" cy="83.1" r="0.69" fill="#888"/>
<circle cx="127.0" cy="97.2" r="0.48" fill="#888"/>
<circle cx="113.7" cy="83.0" r="0.54" fill="#d0d0d0"/>
<circle cx="117.5" cy="92.9" r="0.51" fill="#888"/>
<circle cx="112.5" cy="84.8" r="0.50" fill="#d0d0d0"/>
<circle cx="114.7" cy="90.7" r="0.56" fill="#aeaeae"/>
<circle cx="112.7" cy="89.5" r="0.47" fill="#c0c0c0"/>
<circle cx="113.0" cy="98.2" r="0.65" fill="#c0c0c0"/>
<circle cx="121.1" cy="93.6" r="0.67" fill="#9a9a9a"/>
<circle cx="124.3" cy="87.8" r="0.67" fill="#c0c0c0"/>
<circle cx="129.6" cy="81.6" r="0.56" fill="#d0d0d0"/>
<circle cx="110.6" cy="86.1" r="0.61" fill="#d0d0d0"/>
<circle cx="117.0" cy="87.4" r="0.60" fill="#d0d0d0"/>
<circle cx="129.0" cy="83.9" r="0.56" fill="#9a9a9a"/>
<circle cx="112.0" cy="91.1" r="0.59" fill="#888"/>
<circle cx="121.6" cy="90.5" r="0.53" fill="#d0d0d0"/>
<circle cx="109.9" cy="90.3" r="0.70" fill="#c0c0c0"/>
<circle cx="114.8" cy="76.9" r="0.43" fill="#c0c0c0"/>
<circle cx="122.9" cy="80.1" r="0.43" fill="#c0c0c0"/>
<circle cx="114.2" cy="75.8" r="0.70" fill="#d0d0d0"/>
<circle cx="113.2" cy="81.2" r="0.64" fill="#aeaeae"/>
<circle cx="114.5" cy="86.9" r="0.45" fill="#888"/>
<circle cx="113.8" cy="83.3" r="0.70" fill="#9a9a9a"/>
<circle cx="118.6" cy="86.1" r="0.40" fill="#888"/>
<circle cx="125.0" cy="87.1" r="0.65" fill="#888"/>
<circle cx="120.7" cy="87.2" r="0.45" fill="#888"/>
<circle cx="106.1" cy="81.6" r="0.67" fill="#888"/>
<circle cx="128.1" cy="86.8" r="0.52" fill="#9a9a9a"/>
<circle cx="124.2" cy="93.2" r="0.55" fill="#9a9a9a"/>
<circle cx="122.5" cy="89.3" r="0.56" fill="#d0d0d0"/>
<circle cx="109.4" cy="79.3" r="0.42" fill="#9a9a9a"/>
<circle cx="115.3" cy="79.2" r="0.44" fill="#aeaeae"/>
<circle cx="116.4" cy="90.1" r="0.48" fill="#9a9a9a"/>
<circle cx="129.8" cy="74.8" r="0.42" fill="#aeaeae"/>
<circle cx="112.4" cy="89.0" r="0.42" fill="#d0d0d0"/>
<circle cx="103.6" cy="78.8" r="0.53" fill="#888"/>
<circle cx="119.4" cy="91.6" r="0.45" fill="#888"/>
<circle cx="122.7" cy="82.5" r="0.67" fill="#d0d0d0"/>
<circle cx="115.9" cy="95.3" r="0.69" fill="#d0d0d0"/>
<circle cx="121.6" cy="86.7" r="0.60" fill="#888"/>
<circle cx="120.1" cy="92.5" r="0.66" fill="#d0d0d0"/>
<circle cx="133.0" cy="88.8" r="0.43" fill="#aeaeae"/>
<circle cx="116.2" cy="90.2" r="0.69" fill="#c0c0c0"/>
<circle cx="113.7" cy="90.8" r="0.50" fill="#d0d0d0"/>
<circle cx="113.8" cy="95.1" r="0.69" fill="#d0d0d0"/>
<circle cx="122.0" cy="81.6" r="0.47" fill="#aeaeae"/>
<circle cx="112.7" cy="88.2" r="0.53" fill="#c0c0c0"/>
<circle cx="115.7" cy="81.9" r="0.45" fill="#aeaeae"/>
<circle cx="123.6" cy="89.8" r="0.65" fill="#aeaeae"/>
<circle cx="111.6" cy="84.5" r="0.64" fill="#aeaeae"/>
<circle cx="122.5" cy="92.1" r="0.62" fill="#d0d0d0"/>
<circle cx="112.7" cy="80.8" r="0.49" fill="#d0d0d0"/>
<circle cx="114.0" cy="86.9" r="0.54" fill="#aeaeae"/>
<circle cx="112.8" cy="83.0" r="0.70" fill="#888"/>
<circle cx="119.2" cy="95.9" r="0.46" fill="#9a9a9a"/>
<circle cx="117.7" cy="84.4" r="0.66" fill="#d0d0d0"/>
<circle cx="130.0" cy="88.9" r="0.44" fill="#9a9a9a"/>
<circle cx="116.7" cy="88.8" r="0.45" fill="#aeaeae"/>
<circle cx="114.5" cy="95.6" r="0.43" fill="#888"/>
<circle cx="129.9" cy="80.9" r="0.63" fill="#aeaeae"/>
<circle cx="124.5" cy="89.3" r="0.47" fill="#aeaeae"/>
<circle cx="121.9" cy="81.0" r="0.51" fill="#d0d0d0"/>
<circle cx="121.3" cy="73.7" r="0.66" fill="#aeaeae"/>
<circle cx="123.0" cy="85.4" r="0.51" fill="#c0c0c0"/>
<circle cx="120.3" cy="86.1" r="0.61" fill="#d0d0d0"/>
<circle cx="119.1" cy="99.6" r="0.51" fill="#9a9a9a"/>
<circle cx="120.4" cy="89.9" r="0.67" fill="#aeaeae"/>
<circle cx="118.5" cy="85.2" r="0.41" fill="#aeaeae"/>
<circle cx="108.3" cy="91.6" r="0.45" fill="#9a9a9a"/>
<circle cx="109.7" cy="84.0" r="0.68" fill="#888"/>
<circle cx="123.8" cy="79.9" r="0.61" fill="#c0c0c0"/>
<circle cx="128.3" cy="82.6" r="0.57" fill="#9a9a9a"/>
<circle cx="128.1" cy="94.1" r="0.60" fill="#9a9a9a"/>
<circle cx="125.6" cy="80.9" r="0.61" fill="#aeaeae"/>
<circle cx="118.2" cy="85.4" r="0.50" fill="#c0c0c0"/>
<circle cx="119.0" cy="84.2" r="0.61" fill="#d0d0d0"/>
<circle cx="128.7" cy="86.9" r="0.47" fill="#888"/>
<circle cx="133.3" cy="95.4" r="0.53" fill="#c0c0c0"/>
<circle cx="114.9" cy="77.1" r="0.65" fill="#d0d0d0"/>
<circle cx="108.5" cy="86.5" r="0.46" fill="#888"/>
<circle cx="125.9" cy="77.7" r="0.55" fill="#aeaeae"/>
<circle cx="129.5" cy="89.7" r="0.64" fill="#c0c0c0"/>
<circle cx="120.9" cy="90.5" r="0.63" fill="#aeaeae"/>
<circle cx="113.9" cy="85.7" r="0.42" fill="#c0c0c0"/>
<circle cx="117.2" cy="89.3" r="0.59" fill="#aeaeae"/>
<circle cx="126.2" cy="94.7" r="0.60" fill="#aeaeae"/>
<circle cx="118.8" cy="86.3" r="0.61" fill="#aeaeae"/>
<circle cx="125.0" cy="84.6" r="0.49" fill="#aeaeae"/>
<circle cx="114.6" cy="84.5" r="0.59" fill="#9a9a9a"/>
<circle cx="107.7" cy="83.7" r="0.45" fill="#aeaeae"/>
<circle cx="112.7" cy="82.8" r="0.63" fill="#aeaeae"/>
<circle cx="123.4" cy="90.5" r="0.51" fill="#aeaeae"/>
<circle cx="133.3" cy="90.7" r="0.49" fill="#9a9a9a"/>
<circle cx="116.7" cy="80.2" r="0.43" fill="#c0c0c0"/>
<circle cx="110.5" cy="89.9" r="0.49" fill="#888"/>
<circle cx="119.9" cy="87.4" r="0.70" fill="#d0d0d0"/>
<circle cx="128.6" cy="92.2" r="0.69" fill="#888"/>
<circle cx="118.1" cy="96.3" r="0.69" fill="#d0d0d0"/>
<circle cx="122.2" cy="94.6" r="0.40" fill="#9a9a9a"/>
<circle cx="112.9" cy="79.8" r="0.68" fill="#c0c0c0"/>
<circle cx="117.4" cy="84.8" r="0.62" fill="#9a9a9a"/>
<circle cx="121.0" cy="74.7" r="0.49" fill="#aeaeae"/>
<circle cx="127.3" cy="85.1" r="0.67" fill="#aeaeae"/>
<circle cx="127.9" cy="93.2" r="0.49" fill="#888"/>
<circle cx="116.9" cy="90.7" r="0.65" fill="#c0c0c0"/>
<circle cx="119.5" cy="90.5" r="0.68" fill="#c0c0c0"/>
<circle cx="119.1" cy="88.9" r="0.57" fill="#d0d0d0"/>
<circle cx="133.0" cy="78.2" r="0.55" fill="#d0d0d0"/>
<circle cx="116.2" cy="65.7" r="0.58" fill="#9a9a9a"/>
<circle cx="122.2" cy="90.6" r="0.44" fill="#d0d0d0"/>
<circle cx="120.7" cy="88.0" r="0.53" fill="#aeaeae"/>
<circle cx="120.3" cy="93.2" r="0.41" fill="#888"/>
<circle cx="126.6" cy="78.0" r="0.53" fill="#c0c0c0"/>
<circle cx="121.1" cy="88.0" r="0.61" fill="#c0c0c0"/>
<circle cx="113.9" cy="67.3" r="0.59" fill="#b8b8b8"/>
<circle cx="116.5" cy="65.3" r="0.46" fill="#909090"/>
<circle cx="116.5" cy="59.9" r="0.51" fill="#909090"/>
<circle cx="118.3" cy="69.3" r="0.49" fill="#b8b8b8"/>
<circle cx="130.7" cy="65.0" r="0.52" fill="#a0a0a0"/>
<circle cx="111.9" cy="62.6" r="0.53" fill="#909090"/>
<circle cx="120.7" cy="65.3" r="0.53" fill="#c8c8c8"/>
<circle cx="118.7" cy="62.4" r="0.53" fill="#b8b8b8"/>
<circle cx="115.0" cy="75.1" r="0.54" fill="#b8b8b8"/>
<circle cx="109.4" cy="62.9" r="0.52" fill="#909090"/>
<circle cx="109.7" cy="69.9" r="0.49" fill="#c8c8c8"/>
<circle cx="116.3" cy="69.1" r="0.58" fill="#a0a0a0"/>
<circle cx="115.4" cy="76.4" r="0.53" fill="#b8b8b8"/>
<circle cx="107.8" cy="66.3" r="0.50" fill="#909090"/>
<circle cx="114.3" cy="73.4" r="0.42" fill="#a0a0a0"/>
<circle cx="119.3" cy="60.9" r="0.56" fill="#b8b8b8"/>
<circle cx="118.8" cy="62.2" r="0.54" fill="#a0a0a0"/>
<circle cx="100.5" cy="57.9" r="0.50" fill="#909090"/>
<circle cx="116.4" cy="62.6" r="0.43" fill="#b8b8b8"/>
<circle cx="101.8" cy="63.7" r="0.43" fill="#a0a0a0"/>
<circle cx="111.2" cy="67.9" r="0.41" fill="#b8b8b8"/>
<circle cx="109.6" cy="67.6" r="0.43" fill="#a0a0a0"/>
<circle cx="102.7" cy="60.0" r="0.51" fill="#c8c8c8"/>
<circle cx="118.7" cy="74.2" r="0.47" fill="#a0a0a0"/>
<circle cx="114.6" cy="64.7" r="0.47" fill="#c8c8c8"/>
<circle cx="112.6" cy="65.5" r="0.52" fill="#a0a0a0"/>
<circle cx="109.2" cy="70.5" r="0.52" fill="#a0a0a0"/>
<circle cx="122.4" cy="63.6" r="0.45" fill="#b8b8b8"/>
<circle cx="112.5" cy="66.0" r="0.60" fill="#909090"/>
<circle cx="114.1" cy="67.7" r="0.42" fill="#c8c8c8"/>
<circle cx="116.5" cy="72.8" r="0.46" fill="#909090"/>
<circle cx="117.8" cy="61.3" r="0.45" fill="#c8c8c8"/>
<circle cx="114.1" cy="66.7" r="0.47" fill="#b8b8b8"/>
<circle cx="105.0" cy="67.5" r="0.41" fill="#a0a0a0"/>
<circle cx="121.7" cy="70.1" r="0.53" fill="#909090"/>
<circle cx="123.1" cy="56.1" r="0.54" fill="#909090"/>
<circle cx="101.9" cy="73.3" r="0.52" fill="#a0a0a0"/>
<circle cx="107.5" cy="71.7" r="0.46" fill="#b8b8b8"/>
<circle cx="111.2" cy="66.2" r="0.43" fill="#c8c8c8"/>
<circle cx="112.1" cy="62.6" r="0.49" fill="#c8c8c8"/>
<circle cx="110.5" cy="71.2" r="0.50" fill="#b8b8b8"/>
<circle cx="120.7" cy="67.7" r="0.60" fill="#a0a0a0"/>
<circle cx="105.3" cy="61.1" r="0.43" fill="#909090"/>
<circle cx="111.8" cy="72.8" r="0.45" fill="#b8b8b8"/>
<circle cx="114.8" cy="66.9" r="0.51" fill="#a0a0a0"/>
<circle cx="121.4" cy="60.8" r="0.53" fill="#a0a0a0"/>
<circle cx="109.3" cy="70.1" r="0.56" fill="#b8b8b8"/>
<circle cx="110.5" cy="63.1" r="0.55" fill="#c8c8c8"/>
<circle cx="103.1" cy="66.6" r="0.47" fill="#909090"/>
<circle cx="107.5" cy="73.7" r="0.53" fill="#909090"/>
<circle cx="98.2" cy="66.8" r="0.56" fill="#c8c8c8"/>
<circle cx="115.8" cy="69.8" r="0.58" fill="#909090"/>
<circle cx="107.2" cy="69.8" r="0.55" fill="#b8b8b8"/>
<circle cx="109.7" cy="65.6" r="0.54" fill="#c8c8c8"/>
<circle cx="111.7" cy="60.7" r="0.59" fill="#c8c8c8"/>
<circle cx="117.1" cy="68.4" r="0.58" fill="#b8b8b8"/>
<circle cx="110.8" cy="71.4" r="0.49" fill="#909090"/>
<circle cx="110.2" cy="55.9" r="0.57" fill="#c8c8c8"/>
<circle cx="117.5" cy="64.6" r="0.45" fill="#a0a0a0"/>
<circle cx="113.5" cy="60.0" r="0.45" fill="#a0a0a0"/>
<circle cx="114.4" cy="72.0" r="0.44" fill="#c8c8c8"/>
<circle cx="119.6" cy="61.6" r="0.44" fill="#a0a0a0"/>
<circle cx="122.2" cy="65.4" r="0.42" fill="#c8c8c8"/>
<circle cx="112.9" cy="66.5" r="0.45" fill="#a0a0a0"/>
<circle cx="102.9" cy="58.3" r="0.44" fill="#c8c8c8"/>
<circle cx="114.1" cy="66.1" r="0.50" fill="#c8c8c8"/>
<circle cx="119.4" cy="75.9" r="0.56" fill="#a0a0a0"/>
<circle cx="108.6" cy="63.8" r="0.50" fill="#909090"/>
<circle cx="112.7" cy="72.6" r="0.40" fill="#c8c8c8"/>
<circle cx="93.9" cy="61.2" r="0.41" fill="#c8c8c8"/>
<circle cx="113.8" cy="67.8" r="0.44" fill="#a0a0a0"/>
<circle cx="108.8" cy="70.7" r="0.47" fill="#b8b8b8"/>
<circle cx="107.8" cy="61.3" r="0.47" fill="#c8c8c8"/>
<circle cx="116.1" cy="61.7" r="0.41" fill="#c8c8c8"/>
<circle cx="107.9" cy="61.9" r="0.54" fill="#c8c8c8"/>
<circle cx="107.5" cy="71.7" r="0.45" fill="#c8c8c8"/>
<circle cx="120.9" cy="67.3" r="0.53" fill="#c8c8c8"/>
<circle cx="118.8" cy="72.7" r="0.48" fill="#a0a0a0"/>
<circle cx="122.0" cy="64.3" r="0.42" fill="#b8b8b8"/>
<circle cx="108.8" cy="65.9" r="0.59" fill="#c8c8c8"/>
<circle cx="111.8" cy="56.2" r="0.57" fill="#b8b8b8"/>
<circle cx="106.6" cy="66.2" r="0.54" fill="#909090"/>
<circle cx="121.2" cy="66.3" r="0.53" fill="#c8c8c8"/>
<circle cx="118.6" cy="64.1" r="0.44" fill="#a0a0a0"/>
<circle cx="121.9" cy="72.1" r="0.41" fill="#909090"/>
<circle cx="110.0" cy="62.9" r="0.45" fill="#909090"/>
<circle cx="99.7" cy="73.0" r="0.59" fill="#b8b8b8"/>
<circle cx="114.4" cy="67.2" r="0.54" fill="#b8b8b8"/>
<circle cx="113.6" cy="70.3" r="0.55" fill="#c8c8c8"/>
<circle cx="106.3" cy="82.3" r="0.44" fill="#b8b8b8"/>
<circle cx="96.8" cy="68.7" r="0.55" fill="#b8b8b8"/>
<circle cx="115.5" cy="63.3" r="0.47" fill="#909090"/>
<circle cx="116.7" cy="64.3" r="0.46" fill="#909090"/>
<circle cx="113.5" cy="68.6" r="0.56" fill="#c8c8c8"/>
<circle cx="124.6" cy="69.5" r="0.49" fill="#909090"/>
<circle cx="127.9" cy="54.8" r="0.46" fill="#a0a0a0"/>
<circle cx="114.4" cy="64.3" r="0.58" fill="#b8b8b8"/>
<circle cx="116.4" cy="65.5" r="0.55" fill="#a0a0a0"/>
<circle cx="113.1" cy="61.4" r="0.48" fill="#909090"/>
<circle cx="104.6" cy="76.5" r="0.54" fill="#c8c8c8"/>
<circle cx="114.8" cy="66.8" r="0.45" fill="#a0a0a0"/>
<circle cx="121.1" cy="68.4" r="0.45" fill="#909090"/>
<circle cx="109.4" cy="59.3" r="0.41" fill="#c8c8c8"/>
<circle cx="116.1" cy="68.0" r="0.59" fill="#b8b8b8"/>
<circle cx="112.5" cy="66.9" r="0.44" fill="#b8b8b8"/>
<circle cx="107.1" cy="62.3" r="0.60" fill="#c8c8c8"/>
<circle cx="122.4" cy="56.4" r="0.42" fill="#b8b8b8"/>
<circle cx="124.3" cy="56.3" r="0.44" fill="#a0a0a0"/>
<circle cx="112.4" cy="70.1" r="0.45" fill="#a0a0a0"/>
<circle cx="117.5" cy="66.3" r="0.41" fill="#c8c8c8"/>
<circle cx="112.3" cy="71.4" r="0.41" fill="#909090"/>
<circle cx="104.5" cy="65.3" r="0.54" fill="#c8c8c8"/>
<circle cx="108.1" cy="69.6" r="0.48" fill="#b8b8b8"/>
<circle cx="107.8" cy="70.2" r="0.48" fill="#b8b8b8"/>
<circle cx="121.0" cy="62.8" r="0.45" fill="#c8c8c8"/>
<circle cx="109.1" cy="59.4" r="0.60" fill="#b8b8b8"/>
<circle cx="111.5" cy="65.2" r="0.52" fill="#a0a0a0"/>
<circle cx="114.9" cy="66.1" r="0.54" fill="#c8c8c8"/>
<circle cx="110.0" cy="62.0" r="0.53" fill="#909090"/>
<circle cx="113.3" cy="67.0" r="0.55" fill="#909090"/>
<circle cx="103.6" cy="66.6" r="0.60" fill="#b8b8b8"/>
<circle cx="118.6" cy="59.1" r="0.57" fill="#c8c8c8"/>
<circle cx="111.4" cy="62.1" r="0.51" fill="#c8c8c8"/>
<circle cx="124.2" cy="70.9" r="0.53" fill="#c8c8c8"/>
<circle cx="112.0" cy="76.6" r="0.57" fill="#c8c8c8"/>
<circle cx="105.1" cy="66.2" r="0.44" fill="#b8b8b8"/>
<circle cx="123.8" cy="70.4" r="0.47" fill="#b8b8b8"/>
<circle cx="100.4" cy="65.4" r="0.45" fill="#b8b8b8"/>
<circle cx="118.9" cy="73.0" r="0.44" fill="#a0a0a0"/>
<circle cx="110.1" cy="71.3" r="0.57" fill="#909090"/>
<circle cx="115.9" cy="69.0" r="0.45" fill="#a0a0a0"/>
<circle cx="106.2" cy="72.5" r="0.50" fill="#c8c8c8"/>
<circle cx="110.1" cy="67.6" r="0.48" fill="#909090"/>
<circle cx="110.4" cy="61.9" r="0.50" fill="#b8b8b8"/>
<circle cx="113.2" cy="64.2" r="0.54" fill="#c8c8c8"/>
<circle cx="102.7" cy="67.5" r="0.52" fill="#c8c8c8"/>
<circle cx="114.7" cy="63.4" r="0.51" fill="#a0a0a0"/>
<circle cx="110.8" cy="66.3" r="0.44" fill="#c8c8c8"/>
<circle cx="117.7" cy="65.1" r="0.45" fill="#909090"/>
<circle cx="121.4" cy="70.9" r="0.57" fill="#b8b8b8"/>
<circle cx="125.2" cy="76.1" r="0.46" fill="#c8c8c8"/>
<circle cx="122.8" cy="63.2" r="0.48" fill="#a0a0a0"/>
<circle cx="111.6" cy="62.9" r="0.48" fill="#c8c8c8"/>
<circle cx="108.9" cy="70.9" r="0.52" fill="#b8b8b8"/>
<circle cx="126.5" cy="65.6" r="0.52" fill="#a0a0a0"/>
<circle cx="109.8" cy="63.1" r="0.41" fill="#909090"/>
<circle cx="106.8" cy="71.2" r="0.50" fill="#a0a0a0"/>
<circle cx="120.0" cy="71.0" r="0.59" fill="#909090"/>
<circle cx="106.2" cy="69.9" r="0.58" fill="#909090"/>
<circle cx="110.0" cy="68.6" r="0.55" fill="#a0a0a0"/>
<circle cx="107.5" cy="59.8" r="0.48" fill="#a0a0a0"/>
<circle cx="118.2" cy="65.1" r="0.47" fill="#909090"/>
<circle cx="113.4" cy="64.5" r="0.44" fill="#a0a0a0"/>
<circle cx="111.9" cy="66.6" r="0.50" fill="#b8b8b8"/>
<circle cx="110.8" cy="66.3" r="0.54" fill="#c8c8c8"/>
<circle cx="110.7" cy="67.2" r="0.54" fill="#909090"/>
<circle cx="115.1" cy="64.7" r="0.48" fill="#a0a0a0"/>
<circle cx="115.7" cy="65.0" r="0.47" fill="#a0a0a0"/>
<circle cx="116.4" cy="72.7" r="0.50" fill="#a0a0a0"/>
<circle cx="110.9" cy="70.5" r="0.57" fill="#909090"/>
<circle cx="105.7" cy="66.6" r="0.41" fill="#c8c8c8"/>
<circle cx="113.1" cy="71.9" r="0.49" fill="#c8c8c8"/>
<circle cx="111.7" cy="69.5" r="0.44" fill="#c8c8c8"/>
<circle cx="122.3" cy="64.0" r="0.54" fill="#b8b8b8"/>
<circle cx="104.6" cy="73.7" r="0.44" fill="#a0a0a0"/>
<circle cx="112.9" cy="66.4" r="0.41" fill="#c8c8c8"/>
<circle cx="117.8" cy="67.8" r="0.49" fill="#b8b8b8"/>
<circle cx="109.9" cy="58.3" r="0.52" fill="#909090"/>
<circle cx="103.6" cy="71.5" r="0.44" fill="#b8b8b8"/>
<circle cx="120.0" cy="68.9" r="0.53" fill="#a0a0a0"/>
<circle cx="122.4" cy="74.8" r="0.56" fill="#909090"/>
<circle cx="119.7" cy="77.2" r="0.51" fill="#b8b8b8"/>
<circle cx="102.5" cy="67.1" r="0.53" fill="#c8c8c8"/>
<circle cx="115.8" cy="61.1" r="0.43" fill="#b8b8b8"/>
<circle cx="105.2" cy="66.4" r="0.44" fill="#a0a0a0"/>
<circle cx="119.9" cy="65.4" r="0.53" fill="#c8c8c8"/>
<circle cx="110.9" cy="61.8" r="0.48" fill="#a0a0a0"/>
<circle cx="116.3" cy="65.8" r="0.43" fill="#909090"/>
<circle cx="111.6" cy="70.5" r="0.52" fill="#c8c8c8"/>
<circle cx="110.0" cy="59.3" r="0.46" fill="#c8c8c8"/>
<circle cx="106.9" cy="75.6" r="0.43" fill="#b8b8b8"/>
<circle cx="111.6" cy="67.8" r="0.48" fill="#c8c8c8"/>
<circle cx="114.5" cy="73.2" r="0.42" fill="#909090"/>
<circle cx="115.6" cy="69.6" r="0.47" fill="#909090"/>
<circle cx="122.9" cy="73.2" r="0.42" fill="#b8b8b8"/>
<circle cx="129.6" cy="66.7" r="0.51" fill="#c8c8c8"/>
<circle cx="111.7" cy="67.1" r="0.56" fill="#a0a0a0"/>
<circle cx="114.7" cy="70.9" r="0.46" fill="#a0a0a0"/>
<circle cx="115.4" cy="72.4" r="0.55" fill="#b8b8b8"/>
<circle cx="107.8" cy="65.0" r="0.52" fill="#a0a0a0"/>
<circle cx="119.3" cy="66.1" r="0.59" fill="#c8c8c8"/>
<circle cx="119.0" cy="68.4" r="0.49" fill="#b8b8b8"/>
<circle cx="109.8" cy="71.2" r="0.42" fill="#c8c8c8"/>
<circle cx="117.1" cy="59.5" r="0.49" fill="#a0a0a0"/>
<circle cx="115.2" cy="60.5" r="0.49" fill="#a0a0a0"/>
<circle cx="121.9" cy="68.6" r="0.48" fill="#b8b8b8"/>
<circle cx="101.5" cy="71.8" r="0.42" fill="#b8b8b8"/>
<circle cx="106.4" cy="72.7" r="0.42" fill="#a0a0a0"/>
<circle cx="120.8" cy="58.5" r="0.50" fill="#b8b8b8"/>
<circle cx="112.8" cy="69.4" r="0.45" fill="#b8b8b8"/>
<circle cx="98.9" cy="70.2" r="0.43" fill="#aaa"/>
<circle cx="102.1" cy="77.8" r="0.41" fill="#aaa"/>
<circle cx="100.9" cy="73.0" r="0.50" fill="#999"/>
<circle cx="107.5" cy="69.0" r="0.58" fill="#777"/>
<circle cx="96.7" cy="69.9" r="0.40" fill="#999"/>
<circle cx="97.6" cy="70.8" r="0.54" fill="#777"/>
<circle cx="102.0" cy="67.4" r="0.44" fill="#aaa"/>
<circle cx="104.6" cy="69.9" r="0.56" fill="#999"/>
<circle cx="100.6" cy="82.2" r="0.42" fill="#777"/>
<circle cx="102.4" cy="74.4" r="0.59" fill="#777"/>
<circle cx="101.8" cy="67.9" r="0.46" fill="#777"/>
<circle cx="101.4" cy="72.3" r="0.45" fill="#777"/>
<circle cx="103.0" cy="74.5" r="0.42" fill="#aaa"/>
<circle cx="100.7" cy="67.9" r="0.48" fill="#aaa"/>
<circle cx="102.1" cy="68.5" r="0.60" fill="#999"/>
<circle cx="101.6" cy="61.0" r="0.44" fill="#aaa"/>
<circle cx="102.2" cy="66.0" r="0.63" fill="#777"/>
<circle cx="98.7" cy="84.3" r="0.65" fill="#aaa"/>
<circle cx="105.0" cy="71.7" r="0.48" fill="#999"/>
<circle cx="102.0" cy="61.5" r="0.45" fill="#777"/>
<circle cx="104.3" cy="71.8" r="0.50" fill="#777"/>
<circle cx="101.5" cy="64.6" r="0.44" fill="#aaa"/>
<circle cx="100.1" cy="61.2" r="0.43" fill="#777"/>
<circle cx="107.0" cy="65.0" r="0.59" fill="#777"/>
<circle cx="99.7" cy="66.5" r="0.61" fill="#777"/>
<circle cx="100.1" cy="84.6" r="0.53" fill="#777"/>
<circle cx="106.9" cy="80.5" r="0.60" fill="#aaa"/>
<circle cx="102.0" cy="58.4" r="0.46" fill="#777"/>
<circle cx="100.2" cy="71.2" r="0.52" fill="#777"/>
<circle cx="102.6" cy="68.8" r="0.57" fill="#aaa"/>
<circle cx="103.0" cy="61.2" r="0.64" fill="#aaa"/>
<circle cx="101.1" cy="71.4" r="0.56" fill="#aaa"/>
<circle cx="99.2" cy="58.9" r="0.51" fill="#aaa"/>
<circle cx="104.9" cy="70.2" r="0.40" fill="#999"/>
<circle cx="104.0" cy="65.3" r="0.50" fill="#aaa"/>
<circle cx="99.8" cy="71.4" r="0.45" fill="#aaa"/>
<circle cx="99.8" cy="74.2" r="0.41" fill="#aaa"/>
<circle cx="103.7" cy="72.5" r="0.58" fill="#aaa"/>
<circle cx="99.4" cy="74.1" r="0.46" fill="#999"/>
<circle cx="101.7" cy="68.4" r="0.61" fill="#999"/>
<circle cx="100.3" cy="73.4" r="0.44" fill="#999"/>
<circle cx="102.8" cy="82.4" r="0.55" fill="#aaa"/>
<circle cx="101.2" cy="74.9" r="0.62" fill="#777"/>
<circle cx="103.7" cy="80.5" r="0.44" fill="#777"/>
<circle cx="106.9" cy="70.7" r="0.43" fill="#999"/>
<circle cx="97.6" cy="73.1" r="0.46" fill="#aaa"/>
<circle cx="98.8" cy="54.5" r="0.58" fill="#777"/>
<circle cx="101.3" cy="67.2" r="0.59" fill="#aaa"/>
<circle cx="101.5" cy="67.9" r="0.56" fill="#aaa"/>
<circle cx="101.8" cy="75.0" r="0.48" fill="#777"/>
<path d="M103,74 C101,68 104,62 110,61.5 C116,61 121,64 123,70" fill="none" stroke="#888" stroke-width="0.7"/>
<path d="M110,80.5 Q119,77.5 128,80.5" fill="none" stroke="#555" stroke-width="1"/>
<path d="M100,75 C99,68 101,63 105,61" fill="none" stroke="#777" stroke-width="0.8"/>
<rect x="85.0" y="51.8" width="51.0" height="50.60000000000001" fill="none" stroke="#333" stroke-width="1.1"/>
<rect x="97.6" y="58.6" width="9.6" height="19.6" fill="none" stroke="#ec7f35" stroke-width="1.2"/>
<rect x="107.2" y="52.2" width="21.6" height="24.2" fill="none" stroke="#ec7f35" stroke-width="1.2"/>
<rect x="107.2" y="76.4" width="23.1" height="26" fill="none" stroke="#ec7f35" stroke-width="1.2"/>
<text x="85.60" y="60.60" font-size="9" text-anchor="start" font-weight="normal" fill="#000" >4.4</text>
<text x="133.60" y="60.40" font-size="9" text-anchor="end" font-weight="normal" fill="#000" >6.31</text>
<text x="134.60" y="98.80" font-size="9" text-anchor="end" font-weight="normal" fill="#000" >79.6</text>
<line x1="11.90" y1="84.50" x2="11.90" y2="110.70" stroke="#000" stroke-width="1.2" />
<line x1="11.30" y1="110.70" x2="42.40" y2="110.70" stroke="#000" stroke-width="1.2" />
<polyline points="9.1,87.9 11.9,84.1 14.7,87.9" fill="none" stroke="#000" stroke-width="1.2"/>
<polyline points="39,107.8 42.7,110.7 39,113.6" fill="none" stroke="#000" stroke-width="1.2"/>
<text transform="translate(7.30,99.10) rotate(-90)" font-size="9.4" text-anchor="middle" fill="#000">CD27</text>
<text x="27.30" y="121.80" font-size="10" text-anchor="middle" font-weight="normal" fill="#000" >IgD</text>
<line x1="178.00" y1="15.00" x2="178.00" y2="100.90" stroke="#3a3a3a" stroke-width="1.1" />
<line x1="175.00" y1="100.40" x2="178.00" y2="100.40" stroke="#3a3a3a" stroke-width="1.1" />
<text x="175.20" y="103.70" font-size="9" text-anchor="end" font-weight="normal" fill="#000" >0</text>
<line x1="175.00" y1="83.42" x2="178.00" y2="83.42" stroke="#3a3a3a" stroke-width="1.1" />
<text x="175.20" y="86.72" font-size="9" text-anchor="end" font-weight="normal" fill="#000" >20</text>
<line x1="175.00" y1="66.44" x2="178.00" y2="66.44" stroke="#3a3a3a" stroke-width="1.1" />
<text x="175.20" y="69.74" font-size="9" text-anchor="end" font-weight="normal" fill="#000" >40</text>
<line x1="175.00" y1="49.46" x2="178.00" y2="49.46" stroke="#3a3a3a" stroke-width="1.1" />
<text x="175.20" y="52.76" font-size="9" text-anchor="end" font-weight="normal" fill="#000" >60</text>
<line x1="175.00" y1="32.48" x2="178.00" y2="32.48" stroke="#3a3a3a" stroke-width="1.1" />
<text x="175.20" y="35.78" font-size="9" text-anchor="end" font-weight="normal" fill="#000" >80</text>
<line x1="175.00" y1="15.50" x2="178.00" y2="15.50" stroke="#3a3a3a" stroke-width="1.1" />
<text x="175.20" y="18.80" font-size="9" text-anchor="end" font-weight="normal" fill="#000" >100</text>
<line x1="177.50" y1="100.40" x2="261.50" y2="100.40" stroke="#3a3a3a" stroke-width="1.1" />
<line x1="198.60" y1="100.40" x2="198.60" y2="102.90" stroke="#3a3a3a" stroke-width="1.1" />
<line x1="240.50" y1="100.40" x2="240.50" y2="102.90" stroke="#3a3a3a" stroke-width="1.1" />
<text x="198.60" y="111.60" font-size="9" text-anchor="middle" font-weight="normal" fill="#000" >Control</text>
<text x="239.60" y="111.60" font-size="9" text-anchor="middle" font-weight="normal" fill="#000" >IL12R&#946;1</text>
<text transform="translate(153.60,52.40) rotate(-90)" font-size="9" text-anchor="middle" fill="#000">Na&#239;ve in B (%)</text>
<text x="221.00" y="18.80" font-size="9.8" text-anchor="middle" font-weight="normal" fill="#000" >p=0.0003</text>
<text transform="translate(284.40,54.70) rotate(-90)" font-size="8.7" text-anchor="middle" fill="#000">IgD<tspan font-size="6" dy="-3.2">&#8211;</tspan><tspan dy="3.2">CD27</tspan><tspan font-size="6" dy="-3.2">+</tspan><tspan dy="3.2"> memory in B (%)</tspan></text>
<line x1="307.80" y1="15.00" x2="307.80" y2="100.90" stroke="#3a3a3a" stroke-width="1.1" />
<line x1="304.80" y1="100.40" x2="307.80" y2="100.40" stroke="#3a3a3a" stroke-width="1.1" />
<text x="305.00" y="103.70" font-size="9" text-anchor="end" font-weight="normal" fill="#000" >0</text>
<line x1="304.80" y1="72.10" x2="307.80" y2="72.10" stroke="#3a3a3a" stroke-width="1.1" />
<text x="305.00" y="75.40" font-size="9" text-anchor="end" font-weight="normal" fill="#000" >20</text>
<line x1="304.80" y1="43.80" x2="307.80" y2="43.80" stroke="#3a3a3a" stroke-width="1.1" />
<text x="305.00" y="47.10" font-size="9" text-anchor="end" font-weight="normal" fill="#000" >40</text>
<line x1="304.80" y1="15.50" x2="307.80" y2="15.50" stroke="#3a3a3a" stroke-width="1.1" />
<text x="305.00" y="18.80" font-size="9" text-anchor="end" font-weight="normal" fill="#000" >60</text>
<line x1="307.30" y1="100.40" x2="391.70" y2="100.40" stroke="#3a3a3a" stroke-width="1.1" />
<line x1="328.80" y1="100.40" x2="328.80" y2="102.90" stroke="#3a3a3a" stroke-width="1.1" />
<line x1="371.20" y1="100.40" x2="371.20" y2="102.90" stroke="#3a3a3a" stroke-width="1.1" />
<text x="328.80" y="111.60" font-size="9" text-anchor="middle" font-weight="normal" fill="#000" >Control</text>
<text x="369.60" y="111.60" font-size="9" text-anchor="middle" font-weight="normal" fill="#000" >IL12R&#946;1</text>
<text x="353.30" y="18.80" font-size="9.8" text-anchor="middle" font-weight="normal" fill="#000" >p=0.0003</text>
<text transform="translate(412.60,53.80) rotate(-90)" font-size="8.7" text-anchor="middle" fill="#000">IgD<tspan font-size="6" dy="-3.2">+</tspan><tspan dy="3.2">CD27</tspan><tspan font-size="6" dy="-3.2">+</tspan><tspan dy="3.2"> memory in B (%)</tspan></text>
<line x1="436.00" y1="15.00" x2="436.00" y2="100.90" stroke="#3a3a3a" stroke-width="1.1" />
<line x1="433.00" y1="100.40" x2="436.00" y2="100.40" stroke="#3a3a3a" stroke-width="1.1" />
<text x="433.20" y="103.70" font-size="9" text-anchor="end" font-weight="normal" fill="#000" >0</text>
<line x1="433.00" y1="79.18" x2="436.00" y2="79.18" stroke="#3a3a3a" stroke-width="1.1" />
<text x="433.20" y="82.48" font-size="9" text-anchor="end" font-weight="normal" fill="#000" >10</text>
<line x1="433.00" y1="57.95" x2="436.00" y2="57.95" stroke="#3a3a3a" stroke-width="1.1" />
<text x="433.20" y="61.25" font-size="9" text-anchor="end" font-weight="normal" fill="#000" >20</text>
<line x1="433.00" y1="36.73" x2="436.00" y2="36.73" stroke="#3a3a3a" stroke-width="1.1" />
<text x="433.20" y="40.02" font-size="9" text-anchor="end" font-weight="normal" fill="#000" >30</text>
<line x1="433.00" y1="15.50" x2="436.00" y2="15.50" stroke="#3a3a3a" stroke-width="1.1" />
<text x="433.20" y="18.80" font-size="9" text-anchor="end" font-weight="normal" fill="#000" >40</text>
<line x1="435.50" y1="100.40" x2="520.00" y2="100.40" stroke="#3a3a3a" stroke-width="1.1" />
<line x1="457.50" y1="100.40" x2="457.50" y2="102.90" stroke="#3a3a3a" stroke-width="1.1" />
<line x1="499.00" y1="100.40" x2="499.00" y2="102.90" stroke="#3a3a3a" stroke-width="1.1" />
<text x="456.80" y="111.60" font-size="9" text-anchor="middle" font-weight="normal" fill="#000" >Control</text>
<text x="498.40" y="111.60" font-size="9" text-anchor="middle" font-weight="normal" fill="#000" >IL12R&#946;1</text>
<text x="480.70" y="18.80" font-size="9.8" text-anchor="middle" font-weight="normal" fill="#000" >p&lt;0.0001</text>
<circle cx="191.30" cy="32.40" r="1.75" fill="#1212a8"/>
<circle cx="196.20" cy="34.40" r="1.75" fill="#1212a8"/>
<circle cx="201.10" cy="34.90" r="1.75" fill="#1212a8"/>
<circle cx="206.00" cy="33.70" r="1.75" fill="#1212a8"/>
<circle cx="186.90" cy="37.50" r="1.75" fill="#1212a8"/>
<circle cx="191.80" cy="38.80" r="1.75" fill="#1212a8"/>
<circle cx="196.20" cy="40.30" r="1.75" fill="#1212a8"/>
<circle cx="201.10" cy="38.80" r="1.75" fill="#1212a8"/>
<circle cx="205.50" cy="38.30" r="1.75" fill="#1212a8"/>
<circle cx="210.40" cy="37.80" r="1.75" fill="#1212a8"/>
<circle cx="196.20" cy="42.40" r="1.75" fill="#1212a8"/>
<circle cx="201.10" cy="41.30" r="1.75" fill="#1212a8"/>
<circle cx="186.90" cy="43.20" r="1.75" fill="#1212a8"/>
<circle cx="189.25" cy="44.24" r="1.75" fill="#1212a8"/>
<circle cx="191.60" cy="45.06" r="1.75" fill="#1212a8"/>
<circle cx="193.95" cy="45.64" r="1.75" fill="#1212a8"/>
<circle cx="196.30" cy="45.98" r="1.75" fill="#1212a8"/>
<circle cx="198.65" cy="46.10" r="1.75" fill="#1212a8"/>
<circle cx="201.00" cy="45.98" r="1.75" fill="#1212a8"/>
<circle cx="203.35" cy="45.64" r="1.75" fill="#1212a8"/>
<circle cx="205.70" cy="45.06" r="1.75" fill="#1212a8"/>
<circle cx="208.05" cy="44.24" r="1.75" fill="#1212a8"/>
<circle cx="210.40" cy="43.20" r="1.75" fill="#1212a8"/>
<circle cx="187.20" cy="47.80" r="1.75" fill="#1212a8"/>
<circle cx="189.44" cy="48.59" r="1.75" fill="#1212a8"/>
<circle cx="191.68" cy="49.21" r="1.75" fill="#1212a8"/>
<circle cx="193.92" cy="49.65" r="1.75" fill="#1212a8"/>
<circle cx="196.16" cy="49.91" r="1.75" fill="#1212a8"/>
<circle cx="198.40" cy="50.00" r="1.75" fill="#1212a8"/>
<circle cx="200.64" cy="49.91" r="1.75" fill="#1212a8"/>
<circle cx="202.88" cy="49.65" r="1.75" fill="#1212a8"/>
<circle cx="205.12" cy="49.21" r="1.75" fill="#1212a8"/>
<circle cx="207.36" cy="48.59" r="1.75" fill="#1212a8"/>
<circle cx="209.60" cy="47.80" r="1.75" fill="#1212a8"/>
<circle cx="195.50" cy="53.30" r="1.75" fill="#1212a8"/>
<circle cx="200.50" cy="54.00" r="1.75" fill="#1212a8"/>
<circle cx="188.00" cy="55.10" r="1.75" fill="#1212a8"/>
<circle cx="190.31" cy="56.36" r="1.75" fill="#1212a8"/>
<circle cx="192.62" cy="57.31" r="1.75" fill="#1212a8"/>
<circle cx="194.93" cy="57.94" r="1.75" fill="#1212a8"/>
<circle cx="197.24" cy="58.26" r="1.75" fill="#1212a8"/>
<circle cx="199.56" cy="58.26" r="1.75" fill="#1212a8"/>
<circle cx="201.87" cy="57.94" r="1.75" fill="#1212a8"/>
<circle cx="204.18" cy="57.31" r="1.75" fill="#1212a8"/>
<circle cx="206.49" cy="56.36" r="1.75" fill="#1212a8"/>
<circle cx="208.80" cy="55.10" r="1.75" fill="#1212a8"/>
<circle cx="187.20" cy="59.80" r="1.75" fill="#1212a8"/>
<circle cx="191.30" cy="61.40" r="1.75" fill="#1212a8"/>
<circle cx="195.00" cy="63.00" r="1.75" fill="#1212a8"/>
<circle cx="198.40" cy="63.90" r="1.75" fill="#1212a8"/>
<circle cx="202.10" cy="63.90" r="1.75" fill="#1212a8"/>
<circle cx="206.30" cy="62.60" r="1.75" fill="#1212a8"/>
<circle cx="210.00" cy="60.50" r="1.75" fill="#1212a8"/>
<circle cx="190.90" cy="65.10" r="1.75" fill="#1212a8"/>
<circle cx="196.30" cy="66.80" r="1.75" fill="#1212a8"/>
<circle cx="206.30" cy="66.80" r="1.75" fill="#1212a8"/>
<circle cx="201.30" cy="70.40" r="1.75" fill="#1212a8"/>
<circle cx="191.10" cy="71.30" r="1.75" fill="#1212a8"/>
<circle cx="206.40" cy="71.30" r="1.75" fill="#1212a8"/>
<circle cx="201.30" cy="73.80" r="1.75" fill="#1212a8"/>
<circle cx="196.20" cy="76.10" r="1.75" fill="#1212a8"/>
<line x1="184.20" y1="51.70" x2="213.30" y2="51.70" stroke="#2c2c2c" stroke-width="1.4" />
<circle cx="237.70" cy="29.10" r="1.75" fill="#de662a"/>
<circle cx="242.90" cy="33.00" r="1.75" fill="#de662a"/>
<circle cx="229.10" cy="34.00" r="1.75" fill="#de662a"/>
<circle cx="232.90" cy="36.20" r="1.75" fill="#de662a"/>
<circle cx="236.80" cy="37.20" r="1.75" fill="#de662a"/>
<circle cx="240.60" cy="37.90" r="1.75" fill="#de662a"/>
<circle cx="244.50" cy="37.20" r="1.75" fill="#de662a"/>
<circle cx="248.30" cy="36.80" r="1.75" fill="#de662a"/>
<circle cx="251.80" cy="35.80" r="1.75" fill="#de662a"/>
<circle cx="238.00" cy="42.40" r="1.75" fill="#de662a"/>
<circle cx="242.90" cy="44.20" r="1.75" fill="#de662a"/>
<circle cx="247.70" cy="47.40" r="1.75" fill="#de662a"/>
<circle cx="232.90" cy="50.30" r="1.75" fill="#de662a"/>
<circle cx="237.70" cy="52.90" r="1.75" fill="#de662a"/>
<circle cx="242.80" cy="52.50" r="1.75" fill="#de662a"/>
<line x1="226.20" y1="40.40" x2="254.70" y2="40.40" stroke="#2c2c2c" stroke-width="1.4" />
<circle cx="328.40" cy="28.60" r="1.75" fill="#1212a8"/>
<circle cx="328.40" cy="36.20" r="1.75" fill="#1212a8"/>
<circle cx="338.60" cy="44.30" r="1.75" fill="#1212a8"/>
<circle cx="318.40" cy="47.80" r="1.75" fill="#1212a8"/>
<circle cx="323.60" cy="48.10" r="1.75" fill="#1212a8"/>
<circle cx="328.70" cy="49.10" r="1.75" fill="#1212a8"/>
<circle cx="333.60" cy="48.10" r="1.75" fill="#1212a8"/>
<circle cx="321.00" cy="53.90" r="1.75" fill="#1212a8"/>
<circle cx="326.10" cy="55.60" r="1.75" fill="#1212a8"/>
<circle cx="331.00" cy="54.30" r="1.75" fill="#1212a8"/>
<circle cx="336.00" cy="52.00" r="1.75" fill="#1212a8"/>
<circle cx="339.60" cy="57.50" r="1.75" fill="#1212a8"/>
<circle cx="317.40" cy="60.00" r="1.75" fill="#1212a8"/>
<circle cx="321.15" cy="62.72" r="1.75" fill="#1212a8"/>
<circle cx="324.90" cy="64.36" r="1.75" fill="#1212a8"/>
<circle cx="328.65" cy="64.90" r="1.75" fill="#1212a8"/>
<circle cx="332.40" cy="64.36" r="1.75" fill="#1212a8"/>
<circle cx="336.15" cy="62.72" r="1.75" fill="#1212a8"/>
<circle cx="339.90" cy="60.00" r="1.75" fill="#1212a8"/>
<circle cx="316.90" cy="65.40" r="1.75" fill="#1212a8"/>
<circle cx="319.25" cy="66.62" r="1.75" fill="#1212a8"/>
<circle cx="321.60" cy="67.58" r="1.75" fill="#1212a8"/>
<circle cx="323.95" cy="68.26" r="1.75" fill="#1212a8"/>
<circle cx="326.30" cy="68.66" r="1.75" fill="#1212a8"/>
<circle cx="328.65" cy="68.80" r="1.75" fill="#1212a8"/>
<circle cx="331.00" cy="68.66" r="1.75" fill="#1212a8"/>
<circle cx="333.35" cy="68.26" r="1.75" fill="#1212a8"/>
<circle cx="335.70" cy="67.58" r="1.75" fill="#1212a8"/>
<circle cx="338.05" cy="66.62" r="1.75" fill="#1212a8"/>
<circle cx="340.40" cy="65.40" r="1.75" fill="#1212a8"/>
<circle cx="316.40" cy="70.70" r="1.75" fill="#1212a8"/>
<circle cx="318.85" cy="71.96" r="1.75" fill="#1212a8"/>
<circle cx="321.30" cy="72.94" r="1.75" fill="#1212a8"/>
<circle cx="323.75" cy="73.64" r="1.75" fill="#1212a8"/>
<circle cx="326.20" cy="74.06" r="1.75" fill="#1212a8"/>
<circle cx="328.65" cy="74.20" r="1.75" fill="#1212a8"/>
<circle cx="331.10" cy="74.06" r="1.75" fill="#1212a8"/>
<circle cx="333.55" cy="73.64" r="1.75" fill="#1212a8"/>
<circle cx="336.00" cy="72.94" r="1.75" fill="#1212a8"/>
<circle cx="338.45" cy="71.96" r="1.75" fill="#1212a8"/>
<circle cx="340.90" cy="70.70" r="1.75" fill="#1212a8"/>
<circle cx="316.40" cy="76.10" r="1.75" fill="#1212a8"/>
<circle cx="318.85" cy="77.68" r="1.75" fill="#1212a8"/>
<circle cx="321.30" cy="78.92" r="1.75" fill="#1212a8"/>
<circle cx="323.75" cy="79.80" r="1.75" fill="#1212a8"/>
<circle cx="326.20" cy="80.32" r="1.75" fill="#1212a8"/>
<circle cx="328.65" cy="80.50" r="1.75" fill="#1212a8"/>
<circle cx="331.10" cy="80.32" r="1.75" fill="#1212a8"/>
<circle cx="333.55" cy="79.80" r="1.75" fill="#1212a8"/>
<circle cx="336.00" cy="78.92" r="1.75" fill="#1212a8"/>
<circle cx="338.45" cy="77.68" r="1.75" fill="#1212a8"/>
<circle cx="340.90" cy="76.10" r="1.75" fill="#1212a8"/>
<circle cx="317.80" cy="82.00" r="1.75" fill="#1212a8"/>
<circle cx="322.90" cy="85.00" r="1.75" fill="#1212a8"/>
<circle cx="328.40" cy="86.50" r="1.75" fill="#1212a8"/>
<circle cx="333.60" cy="84.60" r="1.75" fill="#1212a8"/>
<circle cx="338.70" cy="81.70" r="1.75" fill="#1212a8"/>
<circle cx="323.60" cy="88.80" r="1.75" fill="#1212a8"/>
<circle cx="333.60" cy="89.70" r="1.75" fill="#1212a8"/>
<circle cx="328.40" cy="93.00" r="1.75" fill="#1212a8"/>
<line x1="314.30" y1="69.00" x2="343.00" y2="69.00" stroke="#2c2c2c" stroke-width="1.4" />
<circle cx="373.10" cy="66.00" r="1.75" fill="#de662a"/>
<circle cx="368.10" cy="68.00" r="1.75" fill="#de662a"/>
<circle cx="368.10" cy="73.50" r="1.75" fill="#de662a"/>
<circle cx="373.10" cy="74.20" r="1.75" fill="#de662a"/>
<circle cx="362.80" cy="80.40" r="1.75" fill="#de662a"/>
<circle cx="373.10" cy="80.40" r="1.75" fill="#de662a"/>
<circle cx="377.80" cy="79.90" r="1.75" fill="#de662a"/>
<circle cx="362.80" cy="85.00" r="1.75" fill="#de662a"/>
<circle cx="367.80" cy="83.20" r="1.75" fill="#de662a"/>
<circle cx="377.80" cy="85.00" r="1.75" fill="#de662a"/>
<circle cx="368.10" cy="88.50" r="1.75" fill="#de662a"/>
<circle cx="372.80" cy="88.50" r="1.75" fill="#de662a"/>
<circle cx="365.20" cy="91.80" r="1.75" fill="#de662a"/>
<circle cx="370.40" cy="95.00" r="1.75" fill="#de662a"/>
<circle cx="375.20" cy="94.30" r="1.75" fill="#de662a"/>
<line x1="356.00" y1="82.10" x2="385.00" y2="82.10" stroke="#2c2c2c" stroke-width="1.4" />
<circle cx="452.30" cy="35.40" r="1.75" fill="#1212a8"/>
<circle cx="462.20" cy="34.90" r="1.75" fill="#1212a8"/>
<circle cx="457.00" cy="39.00" r="1.75" fill="#1212a8"/>
<circle cx="449.30" cy="45.40" r="1.75" fill="#1212a8"/>
<circle cx="454.50" cy="47.70" r="1.75" fill="#1212a8"/>
<circle cx="459.60" cy="46.00" r="1.75" fill="#1212a8"/>
<circle cx="464.50" cy="43.50" r="1.75" fill="#1212a8"/>
<circle cx="454.60" cy="54.00" r="1.75" fill="#1212a8"/>
<circle cx="459.10" cy="54.30" r="1.75" fill="#1212a8"/>
<circle cx="445.00" cy="54.50" r="1.75" fill="#1212a8"/>
<circle cx="447.63" cy="56.28" r="1.75" fill="#1212a8"/>
<circle cx="450.27" cy="57.61" r="1.75" fill="#1212a8"/>
<circle cx="452.90" cy="58.50" r="1.75" fill="#1212a8"/>
<circle cx="455.53" cy="58.94" r="1.75" fill="#1212a8"/>
<circle cx="458.17" cy="58.94" r="1.75" fill="#1212a8"/>
<circle cx="460.80" cy="58.50" r="1.75" fill="#1212a8"/>
<circle cx="463.43" cy="57.61" r="1.75" fill="#1212a8"/>
<circle cx="466.07" cy="56.28" r="1.75" fill="#1212a8"/>
<circle cx="468.70" cy="54.50" r="1.75" fill="#1212a8"/>
<circle cx="446.10" cy="61.30" r="1.75" fill="#1212a8"/>
<circle cx="448.49" cy="62.41" r="1.75" fill="#1212a8"/>
<circle cx="450.88" cy="63.24" r="1.75" fill="#1212a8"/>
<circle cx="453.27" cy="63.79" r="1.75" fill="#1212a8"/>
<circle cx="455.66" cy="64.07" r="1.75" fill="#1212a8"/>
<circle cx="458.04" cy="64.07" r="1.75" fill="#1212a8"/>
<circle cx="460.43" cy="63.79" r="1.75" fill="#1212a8"/>
<circle cx="462.82" cy="63.24" r="1.75" fill="#1212a8"/>
<circle cx="465.21" cy="62.41" r="1.75" fill="#1212a8"/>
<circle cx="467.60" cy="61.30" r="1.75" fill="#1212a8"/>
<circle cx="445.50" cy="67.00" r="1.75" fill="#1212a8"/>
<circle cx="448.01" cy="67.75" r="1.75" fill="#1212a8"/>
<circle cx="450.52" cy="68.31" r="1.75" fill="#1212a8"/>
<circle cx="453.03" cy="68.69" r="1.75" fill="#1212a8"/>
<circle cx="455.54" cy="68.88" r="1.75" fill="#1212a8"/>
<circle cx="458.06" cy="68.88" r="1.75" fill="#1212a8"/>
<circle cx="460.57" cy="68.69" r="1.75" fill="#1212a8"/>
<circle cx="463.08" cy="68.31" r="1.75" fill="#1212a8"/>
<circle cx="465.59" cy="67.75" r="1.75" fill="#1212a8"/>
<circle cx="468.10" cy="67.00" r="1.75" fill="#1212a8"/>
<circle cx="445.50" cy="72.00" r="1.75" fill="#1212a8"/>
<circle cx="447.96" cy="72.95" r="1.75" fill="#1212a8"/>
<circle cx="450.41" cy="73.66" r="1.75" fill="#1212a8"/>
<circle cx="452.87" cy="74.13" r="1.75" fill="#1212a8"/>
<circle cx="455.32" cy="74.37" r="1.75" fill="#1212a8"/>
<circle cx="457.78" cy="74.37" r="1.75" fill="#1212a8"/>
<circle cx="460.23" cy="74.13" r="1.75" fill="#1212a8"/>
<circle cx="462.69" cy="73.66" r="1.75" fill="#1212a8"/>
<circle cx="465.14" cy="72.95" r="1.75" fill="#1212a8"/>
<circle cx="467.60" cy="72.00" r="1.75" fill="#1212a8"/>
<circle cx="445.50" cy="77.90" r="1.75" fill="#1212a8"/>
<circle cx="450.00" cy="78.50" r="1.75" fill="#1212a8"/>
<circle cx="453.80" cy="79.80" r="1.75" fill="#1212a8"/>
<circle cx="457.00" cy="83.00" r="1.75" fill="#1212a8"/>
<circle cx="460.90" cy="81.70" r="1.75" fill="#1212a8"/>
<circle cx="464.70" cy="79.20" r="1.75" fill="#1212a8"/>
<circle cx="468.60" cy="77.90" r="1.75" fill="#1212a8"/>
<circle cx="456.00" cy="61.50" r="1.75" fill="#1212a8"/>
<circle cx="456.00" cy="66.30" r="1.75" fill="#1212a8"/>
<circle cx="456.00" cy="71.30" r="1.75" fill="#1212a8"/>
<circle cx="456.00" cy="76.60" r="1.75" fill="#1212a8"/>
<line x1="443.00" y1="64.60" x2="471.20" y2="64.60" stroke="#2c2c2c" stroke-width="1.4" />
<circle cx="498.80" cy="61.40" r="1.75" fill="#de662a"/>
<circle cx="488.80" cy="71.60" r="1.75" fill="#de662a"/>
<circle cx="498.80" cy="69.90" r="1.75" fill="#de662a"/>
<circle cx="493.60" cy="74.30" r="1.75" fill="#de662a"/>
<circle cx="498.80" cy="75.70" r="1.75" fill="#de662a"/>
<circle cx="503.80" cy="74.80" r="1.75" fill="#de662a"/>
<circle cx="508.80" cy="73.90" r="1.75" fill="#de662a"/>
<circle cx="488.80" cy="84.50" r="1.75" fill="#de662a"/>
<circle cx="493.60" cy="82.50" r="1.75" fill="#de662a"/>
<circle cx="498.80" cy="83.20" r="1.75" fill="#de662a"/>
<circle cx="503.80" cy="81.80" r="1.75" fill="#de662a"/>
<circle cx="508.80" cy="85.20" r="1.75" fill="#de662a"/>
<circle cx="493.60" cy="87.00" r="1.75" fill="#de662a"/>
<circle cx="503.80" cy="87.00" r="1.75" fill="#de662a"/>
<circle cx="498.80" cy="89.70" r="1.75" fill="#de662a"/>
<line x1="484.80" y1="78.80" x2="513.30" y2="78.80" stroke="#2c2c2c" stroke-width="1.4" />
<line x1="28.20" y1="153.20" x2="28.20" y2="238.50" stroke="#3a3a3a" stroke-width="1.1" />
<line x1="25.20" y1="238.00" x2="28.20" y2="238.00" stroke="#3a3a3a" stroke-width="1.1" />
<text x="25.40" y="241.30" font-size="9" text-anchor="end" font-weight="normal" fill="#000" >20</text>
<line x1="25.20" y1="216.93" x2="28.20" y2="216.93" stroke="#3a3a3a" stroke-width="1.1" />
<text x="25.40" y="220.23" font-size="9" text-anchor="end" font-weight="normal" fill="#000" >40</text>
<line x1="25.20" y1="195.85" x2="28.20" y2="195.85" stroke="#3a3a3a" stroke-width="1.1" />
<text x="25.40" y="199.15" font-size="9" text-anchor="end" font-weight="normal" fill="#000" >60</text>
<line x1="25.20" y1="174.77" x2="28.20" y2="174.77" stroke="#3a3a3a" stroke-width="1.1" />
<text x="25.40" y="178.07" font-size="9" text-anchor="end" font-weight="normal" fill="#000" >80</text>
<line x1="25.20" y1="153.70" x2="28.20" y2="153.70" stroke="#3a3a3a" stroke-width="1.1" />
<text x="25.40" y="157.00" font-size="9" text-anchor="end" font-weight="normal" fill="#000" >100</text>
<line x1="27.70" y1="238.00" x2="153.80" y2="238.00" stroke="#3a3a3a" stroke-width="1.1" />
<line x1="28.20" y1="238.00" x2="28.20" y2="240.50" stroke="#3a3a3a" stroke-width="1.1" />
<text x="28.20" y="248.90" font-size="9" text-anchor="middle" font-weight="normal" fill="#000" >0</text>
<line x1="59.48" y1="238.00" x2="59.48" y2="240.50" stroke="#3a3a3a" stroke-width="1.1" />
<text x="59.48" y="248.90" font-size="9" text-anchor="middle" font-weight="normal" fill="#000" >10</text>
<line x1="90.75" y1="238.00" x2="90.75" y2="240.50" stroke="#3a3a3a" stroke-width="1.1" />
<text x="90.75" y="248.90" font-size="9" text-anchor="middle" font-weight="normal" fill="#000" >20</text>
<line x1="122.03" y1="238.00" x2="122.03" y2="240.50" stroke="#3a3a3a" stroke-width="1.1" />
<text x="122.03" y="248.90" font-size="9" text-anchor="middle" font-weight="normal" fill="#000" >30</text>
<line x1="153.30" y1="238.00" x2="153.30" y2="240.50" stroke="#3a3a3a" stroke-width="1.1" />
<text x="153.30" y="248.90" font-size="9" text-anchor="middle" font-weight="normal" fill="#000" >40</text>
<text x="90.75" y="262.40" font-size="10.6" text-anchor="middle" font-weight="normal" fill="#000" >Age</text>
<text transform="translate(7.40,193.80) rotate(-90)" font-size="9" text-anchor="middle" fill="#000">Na&#239;ve in B (%)</text>
<circle cx="43.50" cy="200.60" r="1.3" fill="#d27530"/>
<circle cx="49.80" cy="200.00" r="1.3" fill="#d27530"/>
<circle cx="34.70" cy="170.30" r="1.3" fill="#d27530"/>
<circle cx="46.80" cy="175.10" r="1.3" fill="#d27530"/>
<circle cx="46.80" cy="180.40" r="1.3" fill="#d27530"/>
<circle cx="66.00" cy="180.40" r="1.3" fill="#d27530"/>
<circle cx="50.10" cy="187.20" r="1.3" fill="#d27530"/>
<circle cx="43.40" cy="188.70" r="1.3" fill="#d27530"/>
<circle cx="49.80" cy="187.00" r="1.3" fill="#d27530"/>
<circle cx="87.30" cy="179.10" r="1.3" fill="#d27530"/>
<circle cx="102.90" cy="193.20" r="1.3" fill="#d27530"/>
<circle cx="110.20" cy="197.40" r="1.3" fill="#d27530"/>
<circle cx="138.00" cy="176.80" r="1.3" fill="#d27530"/>
<circle cx="100.40" cy="194.30" r="1.3" fill="#d27530"/>
<circle cx="103.50" cy="194.30" r="1.3" fill="#d27530"/>
<circle cx="109.70" cy="197.50" r="1.3" fill="#d27530"/>
<circle cx="34.50" cy="183.00" r="1.3" fill="#d27530"/>
<circle cx="37.00" cy="184.00" r="1.3" fill="#d27530"/>
<circle cx="34.70" cy="175.90" r="1.4" fill="#1a1ab0"/>
<circle cx="37.80" cy="175.10" r="1.4" fill="#1a1ab0"/>
<circle cx="34.70" cy="178.10" r="1.4" fill="#1a1ab0"/>
<circle cx="38.10" cy="181.10" r="1.4" fill="#1a1ab0"/>
<circle cx="44.10" cy="181.10" r="1.4" fill="#1a1ab0"/>
<circle cx="66.00" cy="176.60" r="1.4" fill="#1a1ab0"/>
<circle cx="69.00" cy="182.70" r="1.4" fill="#1a1ab0"/>
<circle cx="72.80" cy="187.20" r="1.4" fill="#1a1ab0"/>
<circle cx="75.80" cy="186.40" r="1.4" fill="#1a1ab0"/>
<circle cx="56.20" cy="188.70" r="1.4" fill="#1a1ab0"/>
<circle cx="59.20" cy="189.50" r="1.4" fill="#1a1ab0"/>
<circle cx="59.20" cy="192.50" r="1.4" fill="#1a1ab0"/>
<circle cx="56.90" cy="191.70" r="1.4" fill="#1a1ab0"/>
<circle cx="65.30" cy="191.70" r="1.4" fill="#1a1ab0"/>
<circle cx="68.30" cy="192.50" r="1.4" fill="#1a1ab0"/>
<circle cx="40.30" cy="191.70" r="1.4" fill="#1a1ab0"/>
<circle cx="38.10" cy="191.00" r="1.4" fill="#1a1ab0"/>
<circle cx="56.00" cy="189.00" r="1.4" fill="#1a1ab0"/>
<circle cx="56.00" cy="192.00" r="1.4" fill="#1a1ab0"/>
<circle cx="56.00" cy="195.00" r="1.4" fill="#1a1ab0"/>
<circle cx="56.00" cy="198.00" r="1.4" fill="#1a1ab0"/>
<circle cx="56.00" cy="201.00" r="1.4" fill="#1a1ab0"/>
<circle cx="56.00" cy="204.00" r="1.4" fill="#1a1ab0"/>
<circle cx="56.00" cy="206.00" r="1.4" fill="#1a1ab0"/>
<circle cx="59.10" cy="193.30" r="1.4" fill="#1a1ab0"/>
<circle cx="66.40" cy="192.30" r="1.4" fill="#1a1ab0"/>
<circle cx="63.30" cy="204.70" r="1.4" fill="#1a1ab0"/>
<circle cx="66.40" cy="203.70" r="1.4" fill="#1a1ab0"/>
<circle cx="43.50" cy="208.30" r="1.4" fill="#1a1ab0"/>
<circle cx="49.80" cy="205.40" r="1.4" fill="#1a1ab0"/>
<circle cx="49.80" cy="211.00" r="1.4" fill="#1a1ab0"/>
<circle cx="47.30" cy="217.80" r="1.4" fill="#1a1ab0"/>
<circle cx="59.70" cy="213.70" r="1.4" fill="#1a1ab0"/>
<circle cx="72.20" cy="209.50" r="1.4" fill="#1a1ab0"/>
<circle cx="75.10" cy="212.40" r="1.4" fill="#1a1ab0"/>
<circle cx="78.40" cy="222.00" r="1.4" fill="#1a1ab0"/>
<circle cx="81.30" cy="223.00" r="1.4" fill="#1a1ab0"/>
<circle cx="81.30" cy="228.60" r="1.4" fill="#1a1ab0"/>
<circle cx="72.60" cy="186.70" r="1.4" fill="#1a1ab0"/>
<circle cx="91.30" cy="197.50" r="1.4" fill="#1a1ab0"/>
<circle cx="78.00" cy="180.80" r="1.4" fill="#1a1ab0"/>
<circle cx="112.30" cy="182.80" r="1.4" fill="#1a1ab0"/>
<circle cx="119.10" cy="184.50" r="1.4" fill="#1a1ab0"/>
<circle cx="97.70" cy="190.10" r="1.4" fill="#1a1ab0"/>
<circle cx="100.80" cy="194.30" r="1.4" fill="#1a1ab0"/>
<circle cx="119.10" cy="192.80" r="1.4" fill="#1a1ab0"/>
<circle cx="131.00" cy="194.30" r="1.4" fill="#1a1ab0"/>
<circle cx="137.80" cy="194.30" r="1.4" fill="#1a1ab0"/>
<circle cx="94.20" cy="196.30" r="1.4" fill="#1a1ab0"/>
<circle cx="115.40" cy="198.40" r="1.4" fill="#1a1ab0"/>
<circle cx="137.80" cy="204.70" r="1.4" fill="#1a1ab0"/>
<circle cx="112.30" cy="205.30" r="1.4" fill="#1a1ab0"/>
<circle cx="97.70" cy="206.70" r="1.4" fill="#1a1ab0"/>
<circle cx="93.60" cy="211.90" r="1.4" fill="#1a1ab0"/>
<circle cx="106.00" cy="213.60" r="1.4" fill="#1a1ab0"/>
<circle cx="106.60" cy="216.20" r="1.4" fill="#1a1ab0"/>
<circle cx="122.20" cy="218.20" r="1.4" fill="#1a1ab0"/>
<circle cx="106.60" cy="223.40" r="1.4" fill="#1a1ab0"/>
<circle cx="122.20" cy="226.10" r="1.4" fill="#1a1ab0"/>
<circle cx="96.80" cy="189.90" r="1.4" fill="#1a1ab0"/>
<circle cx="131.60" cy="194.50" r="1.4" fill="#1a1ab0"/>
<circle cx="94.20" cy="212.00" r="1.4" fill="#1a1ab0"/>
<line x1="32.00" y1="181.60" x2="137.50" y2="188.10" stroke="#ee7a30" stroke-width="1.75" />
<polyline points="32.00,176.43 35.52,176.91 39.03,177.35 42.55,177.74 46.07,178.08 49.58,178.37 53.10,178.60 56.62,178.77 60.13,178.88 63.65,178.94 67.17,178.95 70.68,178.92 74.20,178.85 77.72,178.75 81.23,178.63 84.75,178.48 88.27,178.32 91.78,178.14 95.30,177.95 98.82,177.75 102.33,177.53 105.85,177.31 109.37,177.09 112.88,176.85 116.40,176.62 119.92,176.37 123.43,176.13 126.95,175.88 130.47,175.63 133.98,175.37 137.50,175.11" fill="none" stroke="#eb8a4a" stroke-width="0.85" stroke-dasharray="3,2.2" opacity="0.8"/>
<polyline points="32.00,186.77 35.52,186.72 39.03,186.72 42.55,186.76 46.07,186.85 49.58,187.00 53.10,187.20 56.62,187.47 60.13,187.79 63.65,188.16 67.17,188.58 70.68,189.05 74.20,189.55 77.72,190.08 81.23,190.64 84.75,191.22 88.27,191.81 91.78,192.43 95.30,193.05 98.82,193.69 102.33,194.33 105.85,194.99 109.37,195.65 112.88,196.31 116.40,196.98 119.92,197.66 123.43,198.34 126.95,199.02 130.47,199.71 133.98,200.40 137.50,201.09" fill="none" stroke="#eb8a4a" stroke-width="0.85" stroke-dasharray="3,2.2" opacity="0.8"/>
<line x1="32.00" y1="192.80" x2="137.50" y2="206.70" stroke="#1c1cc0" stroke-width="1.75" />
<polyline points="32.00,187.03 35.52,187.81 39.03,188.57 42.55,189.33 46.07,190.07 49.58,190.79 53.10,191.49 56.62,192.17 60.13,192.82 63.65,193.44 67.17,194.02 70.68,194.56 74.20,195.06 77.72,195.51 81.23,195.92 84.75,196.28 88.27,196.61 91.78,196.90 95.30,197.16 98.82,197.39 102.33,197.60 105.85,197.80 109.37,197.98 112.88,198.14 116.40,198.30 119.92,198.44 123.43,198.58 126.95,198.71 130.47,198.84 133.98,198.96 137.50,199.07" fill="none" stroke="#2a2a9a" stroke-width="0.85" stroke-dasharray="3,2.2" opacity="0.85"/>
<polyline points="32.00,198.57 35.52,198.72 39.03,198.88 42.55,199.05 46.07,199.24 49.58,199.44 53.10,199.67 56.62,199.91 60.13,200.19 63.65,200.50 67.17,200.84 70.68,201.23 74.20,201.66 77.72,202.14 81.23,202.66 84.75,203.22 88.27,203.82 91.78,204.46 95.30,205.12 98.82,205.82 102.33,206.53 105.85,207.26 109.37,208.01 112.88,208.77 116.40,209.54 119.92,210.32 123.43,211.11 126.95,211.91 130.47,212.71 133.98,213.52 137.50,214.33" fill="none" stroke="#2a2a9a" stroke-width="0.85" stroke-dasharray="3,2.2" opacity="0.85"/>
<line x1="205.00" y1="153.20" x2="205.00" y2="238.50" stroke="#3a3a3a" stroke-width="1.1" />
<line x1="202.00" y1="238.00" x2="205.00" y2="238.00" stroke="#3a3a3a" stroke-width="1.1" />
<text x="202.20" y="241.30" font-size="9" text-anchor="end" font-weight="normal" fill="#000" >0</text>
<line x1="202.00" y1="209.90" x2="205.00" y2="209.90" stroke="#3a3a3a" stroke-width="1.1" />
<text x="202.20" y="213.20" font-size="9" text-anchor="end" font-weight="normal" fill="#000" >20</text>
<line x1="202.00" y1="181.80" x2="205.00" y2="181.80" stroke="#3a3a3a" stroke-width="1.1" />
<text x="202.20" y="185.10" font-size="9" text-anchor="end" font-weight="normal" fill="#000" >40</text>
<line x1="202.00" y1="153.70" x2="205.00" y2="153.70" stroke="#3a3a3a" stroke-width="1.1" />
<text x="202.20" y="157.00" font-size="9" text-anchor="end" font-weight="normal" fill="#000" >60</text>
<line x1="204.50" y1="238.00" x2="330.10" y2="238.00" stroke="#3a3a3a" stroke-width="1.1" />
<line x1="205.00" y1="238.00" x2="205.00" y2="240.50" stroke="#3a3a3a" stroke-width="1.1" />
<text x="205.00" y="248.90" font-size="9" text-anchor="middle" font-weight="normal" fill="#000" >0</text>
<line x1="236.15" y1="238.00" x2="236.15" y2="240.50" stroke="#3a3a3a" stroke-width="1.1" />
<text x="236.15" y="248.90" font-size="9" text-anchor="middle" font-weight="normal" fill="#000" >10</text>
<line x1="267.30" y1="238.00" x2="267.30" y2="240.50" stroke="#3a3a3a" stroke-width="1.1" />
<text x="267.30" y="248.90" font-size="9" text-anchor="middle" font-weight="normal" fill="#000" >20</text>
<line x1="298.45" y1="238.00" x2="298.45" y2="240.50" stroke="#3a3a3a" stroke-width="1.1" />
<text x="298.45" y="248.90" font-size="9" text-anchor="middle" font-weight="normal" fill="#000" >30</text>
<line x1="329.60" y1="238.00" x2="329.60" y2="240.50" stroke="#3a3a3a" stroke-width="1.1" />
<text x="329.60" y="248.90" font-size="9" text-anchor="middle" font-weight="normal" fill="#000" >40</text>
<text x="267.30" y="262.40" font-size="10.6" text-anchor="middle" font-weight="normal" fill="#000" >Age</text>
<text transform="translate(183.00,193.30) rotate(-90)" font-size="8.7" text-anchor="middle" fill="#000">IgD<tspan font-size="6" dy="-3.2">&#8211;</tspan><tspan dy="3.2">CD27</tspan><tspan font-size="6" dy="-3.2">+</tspan><tspan dy="3.2"> memory in B (%)</tspan></text>
<circle cx="220.30" cy="217.80" r="1.3" fill="#d27530"/>
<circle cx="223.50" cy="217.00" r="1.3" fill="#d27530"/>
<circle cx="226.80" cy="212.10" r="1.3" fill="#d27530"/>
<circle cx="207.30" cy="225.90" r="1.3" fill="#d27530"/>
<circle cx="210.50" cy="230.00" r="1.3" fill="#d27530"/>
<circle cx="223.50" cy="231.60" r="1.3" fill="#d27530"/>
<circle cx="242.20" cy="229.10" r="1.3" fill="#d27530"/>
<circle cx="279.40" cy="210.40" r="1.3" fill="#d27530"/>
<circle cx="285.30" cy="205.50" r="1.3" fill="#d27530"/>
<circle cx="313.70" cy="220.80" r="1.3" fill="#d27530"/>
<circle cx="263.70" cy="222.70" r="1.3" fill="#d27530"/>
<circle cx="215.00" cy="223.00" r="1.3" fill="#d27530"/>
<circle cx="230.00" cy="221.00" r="1.3" fill="#d27530"/>
<circle cx="233.30" cy="199.60" r="1.4" fill="#1a1ab0"/>
<circle cx="239.00" cy="201.50" r="1.4" fill="#1a1ab0"/>
<circle cx="242.20" cy="203.50" r="1.4" fill="#1a1ab0"/>
<circle cx="220.30" cy="204.40" r="1.4" fill="#1a1ab0"/>
<circle cx="226.80" cy="205.10" r="1.4" fill="#1a1ab0"/>
<circle cx="233.30" cy="208.00" r="1.4" fill="#1a1ab0"/>
<circle cx="233.30" cy="210.50" r="1.4" fill="#1a1ab0"/>
<circle cx="233.30" cy="213.00" r="1.4" fill="#1a1ab0"/>
<circle cx="235.70" cy="210.40" r="1.4" fill="#1a1ab0"/>
<circle cx="235.70" cy="213.50" r="1.4" fill="#1a1ab0"/>
<circle cx="238.10" cy="210.40" r="1.4" fill="#1a1ab0"/>
<circle cx="213.80" cy="217.80" r="1.4" fill="#1a1ab0"/>
<circle cx="217.00" cy="215.30" r="1.4" fill="#1a1ab0"/>
<circle cx="220.30" cy="222.60" r="1.4" fill="#1a1ab0"/>
<circle cx="210.50" cy="226.70" r="1.4" fill="#1a1ab0"/>
<circle cx="211.30" cy="229.00" r="1.4" fill="#1a1ab0"/>
<circle cx="242.20" cy="224.30" r="1.4" fill="#1a1ab0"/>
<circle cx="243.00" cy="217.80" r="1.4" fill="#1a1ab0"/>
<circle cx="246.30" cy="217.00" r="1.4" fill="#1a1ab0"/>
<circle cx="249.50" cy="217.00" r="1.4" fill="#1a1ab0"/>
<circle cx="226.50" cy="187.00" r="1.4" fill="#1a1ab0"/>
<circle cx="257.90" cy="166.60" r="1.4" fill="#1a1ab0"/>
<circle cx="254.50" cy="173.70" r="1.4" fill="#1a1ab0"/>
<circle cx="235.80" cy="185.70" r="1.4" fill="#1a1ab0"/>
<circle cx="223.40" cy="191.30" r="1.4" fill="#1a1ab0"/>
<circle cx="250.60" cy="190.20" r="1.4" fill="#1a1ab0"/>
<circle cx="257.80" cy="182.00" r="1.4" fill="#1a1ab0"/>
<circle cx="251.50" cy="189.40" r="1.4" fill="#1a1ab0"/>
<circle cx="248.40" cy="193.20" r="1.4" fill="#1a1ab0"/>
<circle cx="232.90" cy="199.50" r="1.4" fill="#1a1ab0"/>
<circle cx="298.60" cy="185.50" r="1.4" fill="#1a1ab0"/>
<circle cx="282.90" cy="191.80" r="1.4" fill="#1a1ab0"/>
<circle cx="270.50" cy="198.00" r="1.4" fill="#1a1ab0"/>
<circle cx="283.30" cy="198.00" r="1.4" fill="#1a1ab0"/>
<circle cx="273.50" cy="202.50" r="1.4" fill="#1a1ab0"/>
<circle cx="280.40" cy="204.50" r="1.4" fill="#1a1ab0"/>
<circle cx="282.90" cy="203.10" r="1.4" fill="#1a1ab0"/>
<circle cx="267.60" cy="210.40" r="1.4" fill="#1a1ab0"/>
<circle cx="270.50" cy="211.40" r="1.4" fill="#1a1ab0"/>
<circle cx="273.50" cy="213.30" r="1.4" fill="#1a1ab0"/>
<circle cx="277.00" cy="211.00" r="1.4" fill="#1a1ab0"/>
<circle cx="289.20" cy="209.80" r="1.4" fill="#1a1ab0"/>
<circle cx="292.10" cy="209.00" r="1.4" fill="#1a1ab0"/>
<circle cx="307.80" cy="204.50" r="1.4" fill="#1a1ab0"/>
<circle cx="313.70" cy="203.90" r="1.4" fill="#1a1ab0"/>
<circle cx="289.20" cy="219.20" r="1.4" fill="#1a1ab0"/>
<circle cx="295.10" cy="218.20" r="1.4" fill="#1a1ab0"/>
<circle cx="295.10" cy="222.20" r="1.4" fill="#1a1ab0"/>
<circle cx="251.90" cy="214.90" r="1.4" fill="#1a1ab0"/>
<circle cx="254.90" cy="220.20" r="1.4" fill="#1a1ab0"/>
<circle cx="250.00" cy="216.30" r="1.4" fill="#1a1ab0"/>
<circle cx="262.00" cy="203.00" r="1.4" fill="#1a1ab0"/>
<circle cx="258.00" cy="208.00" r="1.4" fill="#1a1ab0"/>
<circle cx="216.60" cy="209.40" r="1.4" fill="#1a1ab0"/>
<circle cx="222.00" cy="208.00" r="1.4" fill="#1a1ab0"/>
<line x1="207.40" y1="222.70" x2="313.60" y2="212.10" stroke="#ee7a30" stroke-width="1.75" />
<polyline points="207.40,217.66 210.94,217.61 214.48,217.52 218.02,217.40 221.56,217.24 225.10,217.02 228.64,216.75 232.18,216.43 235.72,216.04 239.26,215.60 242.80,215.10 246.34,214.55 249.88,213.96 253.42,213.34 256.96,212.69 260.50,212.01 264.04,211.30 267.58,210.59 271.12,209.85 274.66,209.11 278.20,208.36 281.74,207.59 285.28,206.82 288.82,206.05 292.36,205.26 295.90,204.48 299.44,203.69 302.98,202.89 306.52,202.10 310.06,201.30 313.60,200.50" fill="none" stroke="#eb8a4a" stroke-width="0.85" stroke-dasharray="3,2.2" opacity="0.8"/>
<polyline points="207.40,227.74 210.94,227.08 214.48,226.46 218.02,225.88 221.56,225.34 225.10,224.84 228.64,224.41 232.18,224.03 235.72,223.71 239.26,223.44 242.80,223.23 246.34,223.07 249.88,222.96 253.42,222.87 256.96,222.82 260.50,222.79 264.04,222.79 267.58,222.80 271.12,222.83 274.66,222.86 278.20,222.91 281.74,222.97 285.28,223.03 288.82,223.10 292.36,223.18 295.90,223.26 299.44,223.34 302.98,223.43 306.52,223.52 310.06,223.61 313.60,223.70" fill="none" stroke="#eb8a4a" stroke-width="0.85" stroke-dasharray="3,2.2" opacity="0.8"/>
<line x1="209.50" y1="210.20" x2="313.60" y2="201.00" stroke="#1c1cc0" stroke-width="1.75" />
<polyline points="209.50,205.46 212.97,205.41 216.44,205.35 219.91,205.28 223.38,205.18 226.85,205.07 230.32,204.92 233.79,204.75 237.26,204.55 240.73,204.31 244.20,204.03 247.67,203.71 251.14,203.36 254.61,202.96 258.08,202.54 261.55,202.08 265.02,201.59 268.49,201.08 271.96,200.55 275.43,200.01 278.90,199.45 282.37,198.88 285.84,198.29 289.31,197.70 292.78,197.10 296.25,196.50 299.72,195.89 303.19,195.28 306.66,194.66 310.13,194.03 313.60,193.41" fill="none" stroke="#2a2a9a" stroke-width="0.85" stroke-dasharray="3,2.2" opacity="0.85"/>
<polyline points="209.50,214.94 212.97,214.37 216.44,213.82 219.91,213.28 223.38,212.77 226.85,212.27 230.32,211.80 233.79,211.35 237.26,210.94 240.73,210.57 244.20,210.23 247.67,209.94 251.14,209.68 254.61,209.46 258.08,209.28 261.55,209.12 265.02,208.99 268.49,208.89 271.96,208.81 275.43,208.74 278.90,208.69 282.37,208.64 285.84,208.61 289.31,208.59 292.78,208.58 296.25,208.57 299.72,208.56 303.19,208.56 306.66,208.57 310.13,208.58 313.60,208.59" fill="none" stroke="#2a2a9a" stroke-width="0.85" stroke-dasharray="3,2.2" opacity="0.85"/>
<line x1="380.00" y1="153.20" x2="380.00" y2="238.50" stroke="#3a3a3a" stroke-width="1.1" />
<line x1="377.00" y1="238.00" x2="380.00" y2="238.00" stroke="#3a3a3a" stroke-width="1.1" />
<text x="377.20" y="241.30" font-size="9" text-anchor="end" font-weight="normal" fill="#000" >0</text>
<line x1="377.00" y1="216.93" x2="380.00" y2="216.93" stroke="#3a3a3a" stroke-width="1.1" />
<text x="377.20" y="220.23" font-size="9" text-anchor="end" font-weight="normal" fill="#000" >10</text>
<line x1="377.00" y1="195.85" x2="380.00" y2="195.85" stroke="#3a3a3a" stroke-width="1.1" />
<text x="377.20" y="199.15" font-size="9" text-anchor="end" font-weight="normal" fill="#000" >20</text>
<line x1="377.00" y1="174.77" x2="380.00" y2="174.77" stroke="#3a3a3a" stroke-width="1.1" />
<text x="377.20" y="178.07" font-size="9" text-anchor="end" font-weight="normal" fill="#000" >30</text>
<line x1="377.00" y1="153.70" x2="380.00" y2="153.70" stroke="#3a3a3a" stroke-width="1.1" />
<text x="377.20" y="157.00" font-size="9" text-anchor="end" font-weight="normal" fill="#000" >40</text>
<line x1="379.50" y1="238.00" x2="505.10" y2="238.00" stroke="#3a3a3a" stroke-width="1.1" />
<line x1="380.00" y1="238.00" x2="380.00" y2="240.50" stroke="#3a3a3a" stroke-width="1.1" />
<text x="380.00" y="248.90" font-size="9" text-anchor="middle" font-weight="normal" fill="#000" >0</text>
<line x1="411.15" y1="238.00" x2="411.15" y2="240.50" stroke="#3a3a3a" stroke-width="1.1" />
<text x="411.15" y="248.90" font-size="9" text-anchor="middle" font-weight="normal" fill="#000" >10</text>
<line x1="442.30" y1="238.00" x2="442.30" y2="240.50" stroke="#3a3a3a" stroke-width="1.1" />
<text x="442.30" y="248.90" font-size="9" text-anchor="middle" font-weight="normal" fill="#000" >20</text>
<line x1="473.45" y1="238.00" x2="473.45" y2="240.50" stroke="#3a3a3a" stroke-width="1.1" />
<text x="473.45" y="248.90" font-size="9" text-anchor="middle" font-weight="normal" fill="#000" >30</text>
<line x1="504.60" y1="238.00" x2="504.60" y2="240.50" stroke="#3a3a3a" stroke-width="1.1" />
<text x="504.60" y="248.90" font-size="9" text-anchor="middle" font-weight="normal" fill="#000" >40</text>
<text x="442.30" y="262.40" font-size="10.6" text-anchor="middle" font-weight="normal" fill="#000" >Age</text>
<text transform="translate(360.00,193.30) rotate(-90)" font-size="8.7" text-anchor="middle" fill="#000">IgD<tspan font-size="6" dy="-3.2">+</tspan><tspan dy="3.2">CD27</tspan><tspan font-size="6" dy="-3.2">+</tspan><tspan dy="3.2"> memory in B (%)</tspan></text>
<circle cx="402.20" cy="199.20" r="1.3" fill="#d27530"/>
<circle cx="386.90" cy="212.40" r="1.3" fill="#d27530"/>
<circle cx="382.90" cy="219.30" r="1.3" fill="#d27530"/>
<circle cx="385.90" cy="223.20" r="1.3" fill="#d27530"/>
<circle cx="398.60" cy="220.20" r="1.3" fill="#d27530"/>
<circle cx="400.60" cy="221.20" r="1.3" fill="#d27530"/>
<circle cx="397.70" cy="225.20" r="1.3" fill="#d27530"/>
<circle cx="395.70" cy="227.10" r="1.3" fill="#d27530"/>
<circle cx="430.10" cy="216.30" r="1.3" fill="#d27530"/>
<circle cx="454.50" cy="211.60" r="1.3" fill="#d27530"/>
<circle cx="460.90" cy="212.10" r="1.3" fill="#d27530"/>
<circle cx="439.40" cy="222.60" r="1.3" fill="#d27530"/>
<circle cx="488.90" cy="223.80" r="1.3" fill="#d27530"/>
<circle cx="392.00" cy="214.00" r="1.3" fill="#d27530"/>
<circle cx="398.30" cy="182.90" r="1.4" fill="#1a1ab0"/>
<circle cx="401.60" cy="192.70" r="1.4" fill="#1a1ab0"/>
<circle cx="408.10" cy="192.10" r="1.4" fill="#1a1ab0"/>
<circle cx="408.10" cy="196.70" r="1.4" fill="#1a1ab0"/>
<circle cx="414.40" cy="196.70" r="1.4" fill="#1a1ab0"/>
<circle cx="417.30" cy="192.70" r="1.4" fill="#1a1ab0"/>
<circle cx="432.40" cy="193.70" r="1.4" fill="#1a1ab0"/>
<circle cx="391.80" cy="202.60" r="1.4" fill="#1a1ab0"/>
<circle cx="394.70" cy="203.10" r="1.4" fill="#1a1ab0"/>
<circle cx="404.50" cy="203.50" r="1.4" fill="#1a1ab0"/>
<circle cx="408.50" cy="204.50" r="1.4" fill="#1a1ab0"/>
<circle cx="410.40" cy="206.50" r="1.4" fill="#1a1ab0"/>
<circle cx="411.40" cy="209.40" r="1.4" fill="#1a1ab0"/>
<circle cx="415.30" cy="203.50" r="1.4" fill="#1a1ab0"/>
<circle cx="417.30" cy="202.60" r="1.4" fill="#1a1ab0"/>
<circle cx="426.20" cy="199.20" r="1.4" fill="#1a1ab0"/>
<circle cx="430.10" cy="207.50" r="1.4" fill="#1a1ab0"/>
<circle cx="386.90" cy="207.50" r="1.4" fill="#1a1ab0"/>
<circle cx="386.90" cy="210.40" r="1.4" fill="#1a1ab0"/>
<circle cx="394.70" cy="211.40" r="1.4" fill="#1a1ab0"/>
<circle cx="408.50" cy="213.80" r="1.4" fill="#1a1ab0"/>
<circle cx="420.30" cy="216.30" r="1.4" fill="#1a1ab0"/>
<circle cx="426.20" cy="214.30" r="1.4" fill="#1a1ab0"/>
<circle cx="420.30" cy="220.20" r="1.4" fill="#1a1ab0"/>
<circle cx="407.50" cy="210.40" r="1.4" fill="#1a1ab0"/>
<circle cx="399.00" cy="204.00" r="1.4" fill="#1a1ab0"/>
<circle cx="457.70" cy="172.80" r="1.4" fill="#1a1ab0"/>
<circle cx="473.20" cy="176.80" r="1.4" fill="#1a1ab0"/>
<circle cx="464.40" cy="181.70" r="1.4" fill="#1a1ab0"/>
<circle cx="457.70" cy="183.40" r="1.4" fill="#1a1ab0"/>
<circle cx="445.50" cy="185.30" r="1.4" fill="#1a1ab0"/>
<circle cx="433.20" cy="193.90" r="1.4" fill="#1a1ab0"/>
<circle cx="448.70" cy="194.90" r="1.4" fill="#1a1ab0"/>
<circle cx="471.20" cy="192.00" r="1.4" fill="#1a1ab0"/>
<circle cx="474.90" cy="196.90" r="1.4" fill="#1a1ab0"/>
<circle cx="443.00" cy="198.10" r="1.4" fill="#1a1ab0"/>
<circle cx="450.40" cy="201.80" r="1.4" fill="#1a1ab0"/>
<circle cx="433.20" cy="203.00" r="1.4" fill="#1a1ab0"/>
<circle cx="447.90" cy="204.70" r="1.4" fill="#1a1ab0"/>
<circle cx="470.00" cy="206.70" r="1.4" fill="#1a1ab0"/>
<circle cx="488.90" cy="191.50" r="1.4" fill="#1a1ab0"/>
<circle cx="488.90" cy="200.50" r="1.4" fill="#1a1ab0"/>
<circle cx="463.90" cy="211.10" r="1.4" fill="#1a1ab0"/>
<circle cx="482.20" cy="215.20" r="1.4" fill="#1a1ab0"/>
<circle cx="455.30" cy="220.10" r="1.4" fill="#1a1ab0"/>
<circle cx="441.80" cy="199.30" r="1.4" fill="#1a1ab0"/>
<circle cx="429.90" cy="206.80" r="1.4" fill="#1a1ab0"/>
<circle cx="470.70" cy="206.90" r="1.4" fill="#1a1ab0"/>
<circle cx="458.00" cy="175.50" r="1.4" fill="#1a1ab0"/>
<line x1="382.00" y1="216.20" x2="489.00" y2="216.80" stroke="#ee7a30" stroke-width="1.75" />
<polyline points="382.00,209.67 385.57,209.96 389.13,210.22 392.70,210.46 396.27,210.66 399.83,210.82 403.40,210.94 406.97,211.02 410.53,211.06 414.10,211.05 417.67,211.00 421.23,210.90 424.80,210.77 428.37,210.60 431.93,210.39 435.50,210.16 439.07,209.90 442.63,209.62 446.20,209.32 449.77,209.00 453.33,208.66 456.90,208.31 460.47,207.95 464.03,207.58 467.60,207.21 471.17,206.82 474.73,206.42 478.30,206.02 481.87,205.62 485.43,205.21 489.00,204.80" fill="none" stroke="#eb8a4a" stroke-width="0.85" stroke-dasharray="3,2.2" opacity="0.8"/>
<polyline points="382.00,222.73 385.57,222.48 389.13,222.26 392.70,222.06 396.27,221.90 399.83,221.78 403.40,221.70 406.97,221.66 410.53,221.66 414.10,221.71 417.67,221.80 421.23,221.94 424.80,222.11 428.37,222.32 431.93,222.57 435.50,222.84 439.07,223.14 442.63,223.46 446.20,223.80 449.77,224.16 453.33,224.54 456.90,224.93 460.47,225.33 464.03,225.74 467.60,226.15 471.17,226.58 474.73,227.02 478.30,227.46 481.87,227.90 485.43,228.35 489.00,228.80" fill="none" stroke="#eb8a4a" stroke-width="0.85" stroke-dasharray="3,2.2" opacity="0.8"/>
<line x1="385.90" y1="209.20" x2="489.00" y2="192.00" stroke="#1c1cc0" stroke-width="1.75" />
<polyline points="385.90,203.17 389.34,202.93 392.77,202.68 396.21,202.42 399.65,202.15 403.08,201.88 406.52,201.59 409.96,201.28 413.39,200.96 416.83,200.61 420.27,200.24 423.70,199.84 427.14,199.39 430.58,198.91 434.01,198.37 437.45,197.79 440.89,197.15 444.32,196.48 447.76,195.76 451.20,195.00 454.63,194.21 458.07,193.40 461.51,192.57 464.94,191.72 468.38,190.86 471.82,189.98 475.25,189.10 478.69,188.21 482.13,187.31 485.56,186.41 489.00,185.50" fill="none" stroke="#2a2a9a" stroke-width="0.85" stroke-dasharray="3,2.2" opacity="0.85"/>
<polyline points="385.90,215.23 389.34,214.32 392.77,213.43 396.21,212.54 399.65,211.66 403.08,210.79 406.52,209.93 409.96,209.09 413.39,208.27 416.83,207.47 420.27,206.69 423.70,205.95 427.14,205.25 430.58,204.59 434.01,203.98 437.45,203.41 440.89,202.90 444.32,202.43 447.76,202.00 451.20,201.61 454.63,201.25 458.07,200.92 461.51,200.60 464.94,200.31 468.38,200.02 471.82,199.75 475.25,199.49 478.69,199.23 482.13,198.98 485.56,198.74 489.00,198.50" fill="none" stroke="#2a2a9a" stroke-width="0.85" stroke-dasharray="3,2.2" opacity="0.85"/>
<line x1="400.20" y1="145.80" x2="417.70" y2="145.80" stroke="#2a2ab8" stroke-width="1.4" />
<line x1="400.20" y1="154.70" x2="417.70" y2="154.70" stroke="#ec8a48" stroke-width="1.4" />
<text x="429.80" y="149.80" font-size="8.7" text-anchor="start" font-weight="normal" fill="#000" >Control subjects</text>
<text x="429.80" y="159.40" font-size="8.7" text-anchor="start" font-weight="normal" fill="#000" >IL12R&#946;1-deficiency</text>
</svg>
</body></html>
